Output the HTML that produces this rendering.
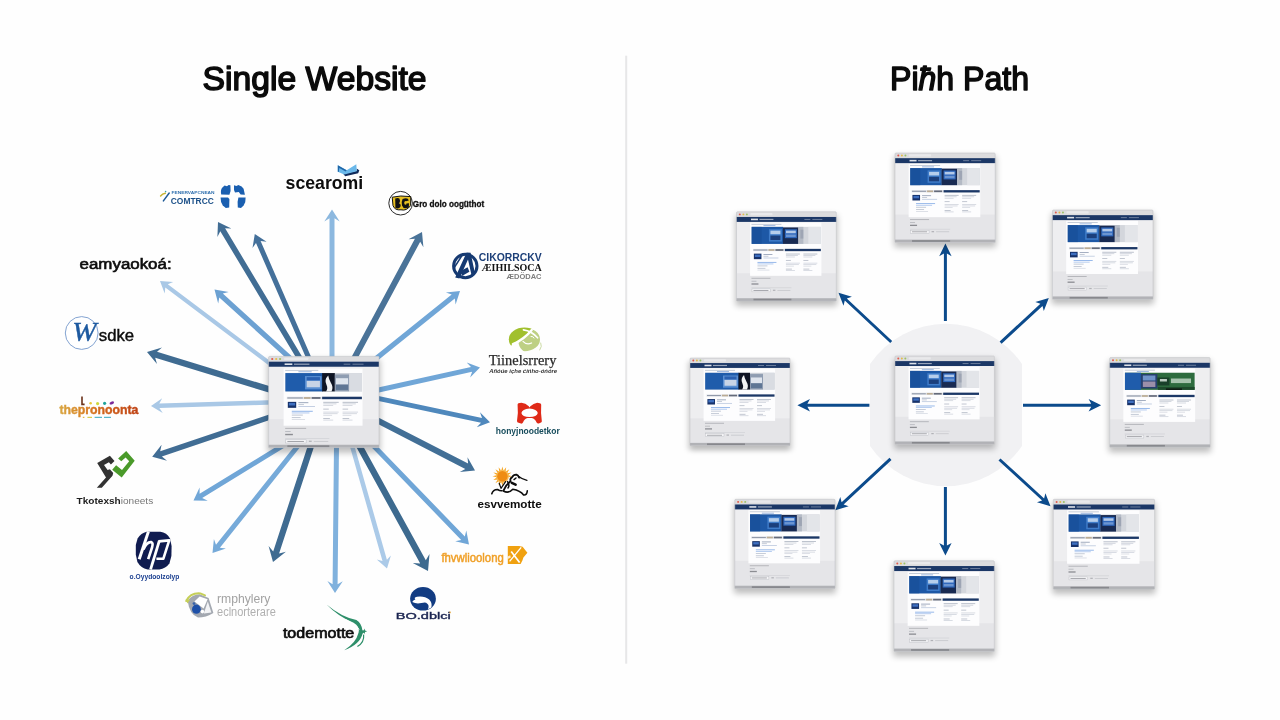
<!DOCTYPE html>
<html><head><meta charset="utf-8"><title>Single Website vs Path</title>
<style>html,body{margin:0;padding:0;background:#fff;width:1280px;height:720px;overflow:hidden}svg{display:block;filter:blur(.45px)}text{font-family:"Liberation Sans", sans-serif}</style></head><body>
<svg width="1280" height="720" viewBox="0 0 1280 720">
<defs><filter id="sh" x="-20%" y="-20%" width="140%" height="150%"><feGaussianBlur stdDeviation="3"/></filter></defs>
<rect width="1280" height="720" fill="#fefefe"/>
<rect x="625.2" y="55.7" width="2" height="608" fill="#e7e7e8"/>
<text x="202.6" y="90" font-size="32.8" fill="#0b0b0b" stroke="#0b0b0b" stroke-width="1.5" stroke-linejoin="round" textLength="224" lengthAdjust="spacingAndGlyphs">Single Website</text>
<text x="890" y="90" font-size="32.8" fill="#0b0b0b" stroke="#0b0b0b" stroke-width="1.5" stroke-linejoin="round" textLength="139" lengthAdjust="spacingAndGlyphs">Pi<tspan font-style="italic">ħ</tspan>h Path</text>
<g id="larrows">
<polygon fill="#416d94" points="307.4,365.6 225.1,228.3 231.4,228.5 218.0,222.0 217.4,236.9 220.3,231.2 302.6,368.4"/>
<polygon fill="#44709a" points="315.4,366.8 260.6,241.0 266.6,241.8 254.8,234.0 252.5,248.0 256.0,243.0 310.8,368.8"/>
<polygon fill="#8cb8df" points="334.5,369.0 334.5,218.2 339.7,221.4 332.0,209.5 324.3,221.4 329.5,218.2 329.5,369.0"/>
<polygon fill="#4a7398" points="352.0,368.8 420.2,241.7 423.4,247.3 422.0,232.0 408.5,239.3 414.9,238.8 346.7,365.9"/>
<polygon fill="#70a6d7" points="368.7,367.7 454.8,298.4 455.6,304.5 460.0,291.0 445.9,292.5 451.7,294.5 365.5,363.8"/>
<polygon fill="#a9c8e6" points="281.2,369.3 167.8,284.2 173.2,282.0 160.0,281.0 164.7,293.4 165.3,287.6 278.6,372.7"/>
<polygon fill="#6ca1d2" points="298.7,362.5 222.8,293.6 228.7,291.9 214.5,289.6 218.2,303.5 219.3,297.5 295.2,366.3"/>
<polygon fill="#3f6b91" points="283.0,390.3 157.0,351.8 162.0,347.6 147.0,352.0 157.0,364.1 155.2,357.8 281.2,396.3"/>
<polygon fill="#a9c8e6" points="282.6,399.8 159.3,403.5 162.2,398.3 151.0,406.0 162.7,413.0 159.4,408.0 282.8,404.3"/>
<polygon fill="#416d94" points="281.1,410.4 160.2,451.2 161.6,444.7 152.2,456.8 167.0,460.7 161.9,456.4 282.8,415.6"/>
<polygon fill="#70a6d7" points="288.1,439.6 199.6,493.7 199.6,487.6 193.5,500.4 207.7,500.8 202.2,498.0 290.7,443.8"/>
<polygon fill="#76aad9" points="302.3,436.5 216.0,544.7 213.9,538.9 212.5,553.0 225.9,548.5 219.9,547.8 306.2,439.6"/>
<polygon fill="#3f6b91" points="311.4,434.7 273.2,551.5 268.6,546.1 273.0,562.0 285.9,551.8 279.1,553.5 317.3,436.7"/>
<polygon fill="#80b1dd" points="334.1,435.0 332.6,584.3 327.4,581.0 335.0,593.0 342.8,581.2 337.6,584.3 339.1,435.0"/>
<polygon fill="#abcae8" points="347.0,436.2 382.5,561.0 376.8,559.4 387.0,568.4 390.9,555.4 386.9,559.7 351.3,434.9"/>
<polygon fill="#3d6a8f" points="351.5,438.3 420.2,563.4 412.8,563.1 428.0,571.0 429.5,553.9 425.8,560.3 357.1,435.2"/>
<polygon fill="#70a6d7" points="365.2,440.7 461.2,540.0 455.2,541.3 469.0,544.5 466.3,530.6 464.8,536.5 368.8,437.2"/>
<polygon fill="#426f96" points="364.9,417.3 465.3,468.9 459.8,472.1 475.0,470.5 467.5,457.2 468.1,463.6 367.6,411.9"/>
<polygon fill="#4f88bc" points="364.5,398.1 481.0,422.8 476.8,427.3 490.0,422.2 480.0,412.2 482.0,418.0 365.5,393.3"/>
<polygon fill="#70a6d7" points="365.6,395.5 472.1,371.7 470.1,377.5 480.0,367.4 466.7,362.5 471.0,366.9 364.5,390.6"/>
</g>
<g transform="translate(268.60,356.40) scale(1.1040,1.0133)">
<rect x="-1" y="3" width="102" height="92" rx="2" fill="#000" opacity=".25" filter="url(#sh)"/>
<rect x="0" y="0" width="100" height="90" rx="1" fill="#eeeef0"/>
<rect x="0" y="62" width="100" height="26" fill="#e5e5e8"/>
<rect x="0" y="0" width="100" height="5.2" rx="1" fill="#dcdcde"/>
<rect x="14" y="1.3" width="22" height="2.2" rx=".6" fill="#e9e9eb"/>
<circle cx="3.3" cy="2.6" r="1.0" fill="#e2594b"/>
<circle cx="6.9" cy="2.6" r="1.0" fill="#e4bb48"/>
<circle cx="10.4" cy="2.6" r="1.0" fill="#9cc266"/>
<rect x="0" y="5.2" width="100" height="5" fill="#1b3766"/>
<rect x="14.5" y="6.9" width="7" height="1.6" fill="#fff" opacity=".85"/>
<rect x="23" y="7.1" width="14" height="1.2" fill="#fff" opacity=".55"/>
<rect x="68" y="7.2" width="6" height="1" fill="#fff" opacity=".35"/>
<rect x="76" y="7.2" width="10" height="1" fill="#fff" opacity=".35"/>
<g transform="translate(0,11.2) scale(1,1.052) translate(0,-10.2)">
<rect x="13.6" y="11" width="71.5" height="53.6" fill="#fdfdfe"/>
<rect x="15" y="12.2" width="30" height=".8" fill="#9aa6ba" opacity=".7"/>
<rect x="27" y="13.6" width="12" height=".8" fill="#3b6fc0" opacity=".6"/>
<rect x="15.2" y="15.2" width="69.4" height="17.2" fill="#c9ced6"/>
<rect x="15.2" y="15.2" width="34" height="17.2" fill="#1f5cab"/>
<rect x="33" y="18" width="15" height="12.5" fill="#5a8fd2"/>
<rect x="34.5" y="22.5" width="12" height="6" fill="#c8d4e6"/>
<rect x="34.5" y="19" width="12" height="3" fill="#2a60b0"/>
<rect x="48.5" y="15.2" width="11.5" height="17.2" fill="#0e1424"/>
<path d="M54 17.5 q-4 4 -1.5 9 q1.5 3.5 -0.5 5.9 h5 q2 -4 -0.5 -8 q-2 -3.5 -2.5 -6.9z" fill="#f1f2f4"/>
<rect x="60" y="16.5" width="13" height="15.9" fill="#8f9db2"/>
<rect x="61" y="20" width="11" height="6" fill="#dfe5ee"/>
<rect x="61" y="26" width="11" height="5" fill="#5f7695"/>
<rect x="73" y="15.2" width="11.6" height="17.2" fill="#d9dce2"/>
<rect x="16.5" y="37.4" width="68" height="2.3" fill="#e3e5ea"/>
<rect x="17" y="38" width="14" height="1.1" fill="#6f7a8e" opacity=".7"/>
<rect x="32" y="37.7" width="6" height="1.7" fill="#a9946f" opacity=".7"/>
<rect x="39" y="37.7" width="8" height="1.7" fill="#454c5e" opacity=".8"/>
<rect x="48.5" y="37.4" width="36" height="2.3" fill="#1b3766"/>
<rect x="17.4" y="42.2" width="7.6" height="5.6" fill="#17326a"/>
<rect x="18.4" y="43.2" width="5.6" height="2.4" fill="#3e6fc0"/>
<rect x="27.0" y="42.6" width="9.0" height="0.8" fill="#5d6f90" opacity="0.70"/>
<rect x="27.0" y="44.4" width="5.0" height="0.8" fill="#7f8ea8" opacity="0.55"/>
<rect x="27.0" y="46.2" width="15.0" height="0.8" fill="#8ea4c8" opacity="0.60"/>
<rect x="21.0" y="50.6" width="19.0" height="0.8" fill="#3b7bd8" opacity="0.65"/>
<rect x="21.0" y="52.2" width="16.0" height="0.8" fill="#3b7bd8" opacity="0.45"/>
<rect x="21.0" y="54.2" width="10.0" height="0.8" fill="#7f8ea8" opacity="0.55"/>
<rect x="21.0" y="56.6" width="8.0" height="0.8" fill="#7f8ea8" opacity="0.55"/>
<rect x="21.0" y="58.4" width="12.0" height="0.8" fill="#9aa6ba" opacity="0.40"/>
<rect x="49.5" y="42.2" width="14.0" height="0.8" fill="#6b7890" opacity="0.55"/>
<rect x="49.5" y="43.7" width="12.0" height="0.8" fill="#8e99ad" opacity="0.45"/>
<rect x="49.5" y="45.2" width="9.0" height="0.8" fill="#8e99ad" opacity="0.40"/>
<rect x="49.5" y="48.6" width="5.0" height="0.8" fill="#6b7890" opacity="0.50"/>
<rect x="49.5" y="51.4" width="14.0" height="0.8" fill="#8e99ad" opacity="0.40"/>
<rect x="49.5" y="52.9" width="13.0" height="0.8" fill="#8e99ad" opacity="0.40"/>
<rect x="49.5" y="54.4" width="8.0" height="0.8" fill="#8e99ad" opacity="0.35"/>
<rect x="49.5" y="57.4" width="6.0" height="0.8" fill="#6b7890" opacity="0.50"/>
<rect x="49.5" y="58.9" width="9.0" height="0.8" fill="#8e99ad" opacity="0.40"/>
<rect x="67.0" y="42.2" width="14.0" height="0.8" fill="#6b7890" opacity="0.55"/>
<rect x="67.0" y="43.7" width="12.0" height="0.8" fill="#8e99ad" opacity="0.45"/>
<rect x="67.0" y="45.2" width="9.0" height="0.8" fill="#8e99ad" opacity="0.40"/>
<rect x="67.0" y="48.6" width="5.0" height="0.8" fill="#6b7890" opacity="0.50"/>
<rect x="67.0" y="51.4" width="14.0" height="0.8" fill="#8e99ad" opacity="0.40"/>
<rect x="67.0" y="52.9" width="13.0" height="0.8" fill="#8e99ad" opacity="0.40"/>
<rect x="67.0" y="54.4" width="8.0" height="0.8" fill="#8e99ad" opacity="0.35"/>
<rect x="67.0" y="57.4" width="6.0" height="0.8" fill="#6b7890" opacity="0.50"/>
<rect x="67.0" y="58.9" width="9.0" height="0.8" fill="#8e99ad" opacity="0.40"/>
<rect x="15.0" y="66.6" width="19.0" height="0.9" fill="#8d8f96" opacity="0.60"/>
<rect x="15.0" y="69.6" width="5.0" height="0.9" fill="#9a9ca3" opacity="0.60"/>
<rect x="15.0" y="72.2" width="7.0" height="1.3" fill="#6d6f76" opacity="0.75"/>
<rect x="15.0" y="76.4" width="40.0" height="0.6" fill="#b9bbc1" opacity="0.50"/>
<rect x="15.5" y="77.8" width="18.5" height="3" fill="#f4f4f6" stroke="#b9bbc1" stroke-width=".4"/>
<rect x="17.0" y="78.9" width="15.0" height="0.9" fill="#7c7e85" opacity="0.70"/>
<rect x="36.5" y="78.6" width="2.5" height="1.2" fill="#8d8f96" opacity="0.60"/>
<rect x="41.0" y="78.9" width="13.0" height="0.8" fill="#a9abb2" opacity="0.50"/>
</g>
<rect x="0" y="87.2" width="100" height="2.8" fill="#b1b2b6"/>
<rect x="17" y="87.7" width="38" height="1.8" fill="#87888d"/>
<rect x="0" y="0" width="100" height="90" rx="1" fill="none" stroke="#bfc0c4" stroke-width=".5"/>
</g>
<defs>
<linearGradient id="gThe" x1="0" x2="1" y1="0" y2="0"><stop offset="0" stop-color="#d9a743"/><stop offset=".25" stop-color="#d98a2a"/><stop offset=".55" stop-color="#d2641c"/><stop offset="1" stop-color="#bf4316"/></linearGradient>
<linearGradient id="gLeaf" x1="0" x2="1" y1="0" y2="1"><stop offset="0" stop-color="#9dbf2c"/><stop offset=".5" stop-color="#a9c445"/><stop offset="1" stop-color="#c3d592"/></linearGradient>
</defs>
<g id="logos">

<!-- scearomi -->
<g>
<path d="M343.4 174 L356.8 170.8 L356.6 168.6 L359.3 170.2 L358.2 173.2 L345.2 176.3Z" fill="#0f2a5a"/>
<path d="M337.8 165.2 L346.7 170.2 L356.3 164.2 L356.8 171.3 L344.3 174.4 L337.8 171.7Z" fill="#6ab8ea"/>
<path d="M337.8 165.2 L346.7 170.2 L345.6 171.5 L339.3 168 L338.8 172.1 L337.8 171.7Z" fill="#1f66a8"/>
<text x="285.6" y="188.7" font-size="17.8" font-weight="700" fill="#0d0d0d" textLength="77.6" lengthAdjust="spacingAndGlyphs">scearomi</text>
</g>

<!-- COMTRCC -->
<g>
<path d="M163.4 200.9 L169.2 193" stroke="#1e5a96" stroke-width="1.5" stroke-linecap="round" fill="none"/>
<path d="M160.6 195.9 Q162.4 193.8 165.3 193.3" stroke="#c8b432" stroke-width="1.5" stroke-linecap="round" fill="none"/>
<circle cx="165.6" cy="191.6" r=".8" fill="#3aa0a0"/>
<text x="171.6" y="193.8" font-size="3.7" font-weight="700" fill="#2f6fae" textLength="43" lengthAdjust="spacingAndGlyphs">FENERVAPCNEAN</text>
<text x="170.8" y="203.9" font-size="9" font-weight="700" fill="#1a4f88" textLength="43" lengthAdjust="spacingAndGlyphs">COMTRCC</text>
<!-- puzzle globe -->
<g fill="#1a5fb0">
<path d="M221.2 194.6 Q220.2 190 222.4 187.6 L224.6 185.4 L227 186.2 L228.6 184.9 L230.4 185.2 L230.6 191 L229.4 194.8Z"/>
<path d="M234 185.2 L236.4 186 L238.4 184.9 L241.6 186.4 L243.6 188.8 L244.9 194.8 L240.6 194.4 L238.8 192 L235 192.6 L234 190Z"/>
<path d="M220.6 197.6 L228 197.4 L229.4 199 L229.2 207.6 L225.8 207.9 L222.8 205.6 Q220.4 202 220.6 197.6Z"/>
<path d="M238.4 197.6 L245.6 197.4 Q246 202 243.6 205.4 L241 207.9 L237.8 207.6 L237.6 202Z"/>
</g>
</g>

<!-- Gro dolo -->
<g>
<circle cx="400.6" cy="203.2" r="11.8" fill="#fff" stroke="#2a2a2a" stroke-width="1"/>
<path d="M392.2 197.2 L400.8 196 L410.8 196.6 L410.6 205.6 Q406.6 211.2 401 209.8 Q394.8 210.6 393 205.6Z" fill="#e6bf22" stroke="#111" stroke-width="1"/>
<path d="M395.2 198.6 q4.6 -1.6 4.8 2 q.2 2 -1.2 2.6 q2.6 .8 1.6 3.6 q-1.4 2.6 -5 1.2z M402.6 199 q5.4 -2 6.2 1.6 l-2.8 .6 q-1.200 -1 -1.800 1.200 q-.2 2.800 2 2.400 l.2 -1.400 l2.600 -.2 l-.2 4.200 q-5.400 2.200 -6.800 -2 q-.8 -3.800 .6 -6.400z" fill="#111"/>
<text x="412.8" y="206.9" font-size="9" font-weight="700" stroke="#0d0d0d" stroke-width=".3" fill="#0d0d0d" textLength="71.4" lengthAdjust="spacingAndGlyphs">Gro dolo oogüthot</text>
</g>

<!-- A logo -->
<g>
<circle cx="465.3" cy="266" r="11.7" fill="#fff" stroke="#163a72" stroke-width="3"/>
<path d="M455.2 277.6 L466.6 252.6 L470.6 252.8 L475.2 274.6 L471.8 276.4 L468 259.6 L459.4 278.4Z" fill="#163a72"/>
<path d="M459.8 271.6 L467.6 267.2 L469.4 271.8 L462.4 275.8Z" fill="#163a72"/>
<path d="M453.6 268.6 L463.4 253.4" stroke="#163a72" stroke-width="1.6" fill="none"/>
<text x="478.8" y="260.6" font-size="10.2" font-weight="700" fill="#1c3f78" textLength="63" lengthAdjust="spacingAndGlyphs">CIKORRCKV</text>
<text x="481.6" y="271.3" font-size="10.8" font-weight="700" fill="#131313" style='font-family:"Liberation Serif",serif' textLength="60.2" lengthAdjust="spacingAndGlyphs">ÆIHILSOCA</text>
<text x="506.5" y="278.7" font-size="7" font-weight="700" fill="#7d7d7d" textLength="35" lengthAdjust="spacingAndGlyphs">ÆDÖDAC</text>
</g>

<!-- Tiinelsrrery -->
<g>
<clipPath id="cLeaf"><ellipse cx="524.4" cy="339.4" rx="15.6" ry="11.9"/></clipPath>
<g clip-path="url(#cLeaf)">
<circle cx="530.4" cy="341.4" r="11.9" fill="#bed084"/>
<polygon points="505,350.2 538,325.2 538,315 500,315 500,350.2" fill="#a1c02e"/>
</g>
<path d="M512.9 344.2 Q524 339.6 531.7 330" stroke="#fff" stroke-width="2.4" fill="none" stroke-linecap="round"/>
<path d="M523.4 329.9 Q531.6 331 537.6 337.8" stroke="#fff" stroke-width="1.6" fill="none" stroke-linecap="round"/>
<path d="M523 341.4 Q526.6 345.4 531.6 343" stroke="#fff" stroke-width="1.2" fill="none" stroke-linecap="round"/>
<path d="M531 336.4 q2.2 -.4 3 1.6" stroke="#fff" stroke-width="1" fill="none" stroke-linecap="round"/>
<path d="M540.8 343 q1.6 3.4 -1 7" stroke="#c5d698" stroke-width=".9" fill="none" stroke-linecap="round"/>
<text x="488.8" y="364.7" font-size="14.8" fill="#2a2a2a" stroke="#2a2a2a" stroke-width=".25" style='font-family:"Liberation Serif",serif' textLength="67.6" lengthAdjust="spacingAndGlyphs">Tiinelsrrery</text>
<text x="489.2" y="373.4" font-size="5.4" font-style="italic" font-weight="700" fill="#333" textLength="68" lengthAdjust="spacingAndGlyphs">Añóúe içhe ćíńho-óńóre</text>
</g>

<!-- red logo -->
<g>
<path fill-rule="evenodd" fill="#df2a18" d="M518.4 403.2 Q517.4 403.6 517.6 405 Q518.4 413.2 517 421 Q517 422.4 518.6 422.8 L521 423.6 Q522.4 423.8 523 422.6 Q524.4 418.6 527.6 418 L531.8 418 Q535 418.6 536.6 422.4 Q537.4 423.8 538.8 423.4 L541 422.6 Q542 422.2 541.8 420.8 Q540.6 413 541.2 404.8 Q541.2 403.4 539.8 403.2 L537.2 402.8 Q533.4 403.4 530.4 406.2 L529.4 407.4 L528.8 406.2 Q525.6 403.2 521.4 402.8Z M529.4 408.6 Q522.2 409.2 521.4 413 Q522.2 416.8 529.4 417 Q537 416.8 537.8 413 Q537 409.2 529.4 408.6Z"/>
<text x="495.8" y="434" font-size="9.8" font-weight="700" fill="#164c5c" textLength="64" lengthAdjust="spacingAndGlyphs">honyjnoodetkor</text>
</g>

<!-- sun runner -->
<g>
<g fill="#f5a623">
<polygon points="501.4,470.6 502.4,466.4 503.4,470.6"/>
<polygon points="503.7,470.6 506.2,467.2 505.5,471.4"/>
<polygon points="505.8,471.6 509.4,469.3 507.1,472.9"/>
<polygon points="507.3,473.2 511.5,472.5 508.1,475.0"/>
<polygon points="508.1,475.3 512.3,476.3 508.1,477.3"/>
<polygon points="503.4,482.0 502.4,486.2 501.4,482.0"/>
<polygon points="501.1,482.0 498.6,485.4 499.3,481.2"/>
<polygon points="499.0,481.0 495.4,483.3 497.7,479.7"/>
<polygon points="497.5,479.4 493.3,480.1 496.7,477.6"/>
<polygon points="496.7,477.3 492.5,476.3 496.7,475.3"/>
<polygon points="496.7,475.0 493.3,472.5 497.5,473.2"/>
<polygon points="497.7,472.9 495.4,469.3 499.0,471.6"/>
<polygon points="499.3,471.4 498.6,467.2 501.1,470.6"/>
</g>
<circle cx="502.4" cy="476.3" r="6.5" fill="#f8bb55"/>
<circle cx="502.4" cy="476.3" r="5.2" fill="#ef8c12"/>
<g fill="none" stroke="#0d0d0d" stroke-linecap="round" stroke-linejoin="round">
<path d="M491.8 493.8 Q493.2 489.4 497.5 489.5 Q499.8 491 502 490.8" stroke-width="1.6"/>
<path d="M499.2 483.2 L501 488.4 L505.6 481.6" stroke-width="1.2"/>
<path d="M503.6 490.4 Q506 484.6 510.6 481.2 Q509.6 478.6 512 477.4 Q513.6 474.4 516.4 474.6 Q518.4 475.4 518.9 477.4" stroke-width="1.8"/>
<path d="M503.4 491 Q508.6 494 512.8 489.2 Q520.2 490.4 523.6 494.9 Q527 495.4 527.3 490.8" stroke-width="1.6"/>
<path d="M518.6 476.6 Q521.6 479 526.9 480.3" stroke-width="1.3"/>
<path d="M511.8 482.8 L515.6 484.6" stroke-width="2.6"/>
<path d="M507.6 481.6 Q510 485.6 508 488" stroke-width="1.5"/>
<path d="M514 479.6 l2 -1.6" stroke-width="1.4"/>
</g>
<circle cx="519.4" cy="477.6" r="1" fill="#0d0d0d"/>
<text x="477.4" y="507.7" font-size="11.5" font-weight="700" fill="#0d0d0d" textLength="64.4" lengthAdjust="spacingAndGlyphs">esvvemotte</text>
</g>

<!-- fhvwlioolong -->
<g>
<text x="441.4" y="561.9" font-size="12.4" fill="#f0a028" stroke="#f0a028" stroke-width=".5" textLength="62.4" lengthAdjust="spacingAndGlyphs">fhvwlioolong</text>
<path d="M507.8 546 L519 546 L522.6 546.8 L527.4 552.8 L523.4 557.6 L522.4 560.6 L520.6 564 L507.8 564Z" fill="#f0a110"/>
<path d="M511.2 551.6 L519.6 562.6" stroke="#fff" stroke-width="1.7" fill="none"/>
<path d="M521.2 547.4 L509.6 561.4" stroke="#fff" stroke-width="1.3" fill="none"/>
<path d="M507.8 556.4 l2.4 -1.2 l.6 2.4 l-3 1.4z" fill="#fff" opacity=".8"/>
</g>

<!-- blue circle BO -->
<g>
<ellipse cx="423" cy="598.8" rx="12.9" ry="11.8" fill="#123c82"/>
<path d="M412.2 602 Q413.6 599.6 415.4 599.4 Q413.4 597.6 417 596.8 Q424.6 595.8 429.2 599.6 Q432.4 602.8 431.4 607.6 L428 609.2 Q429.6 605.4 427 603.6 Q426 601.6 421.4 603 Q416.4 604.2 412.2 602Z" fill="#fff"/>
<text x="395.8" y="618.7" font-size="9.2" fill="#1a2450" stroke="#1a2450" stroke-width=".35" textLength="55" lengthAdjust="spacingAndGlyphs">BO.dblci</text>
<rect x="449.4" y="611.6" width="1.3" height="1.6" fill="#e0a030"/>
</g>

<!-- todemotte -->
<g>
<text x="282.9" y="637.8" font-size="15" fill="#0d0d0d" stroke="#0d0d0d" stroke-width=".7" textLength="71.4" lengthAdjust="spacingAndGlyphs">todemotte</text>
<path d="M326.6 604.6 Q342 617.6 356.4 620 Q361.4 623 362.4 630.2 L365.6 631.6 L362.6 633.4 Q360 644.4 344.2 650.2 Q356 643.2 358.6 632.6 Q360 626.4 353.6 622.8 Q338.6 617 326.6 604.6Z" fill="#2e8f6a"/>
<path d="M346 619.6 Q354.6 623.6 359.4 629.4" stroke="#fff" stroke-width=".8" fill="none"/>
<path d="M363.6 634.6 Q364.6 642.2 357.4 646.6" stroke="#2e8f6a" stroke-width="1.2" fill="none"/>
<path d="M364.4 628.4 l.6 2.2 l2.2 .6 l-2.2 .8 l-.4 2.2 l-1 -2.2 l-2.2 -.6 l2.2 -.8z" fill="#2e8f6a"/>
</g>

<!-- rmphylery -->
<g>
<path d="M187.6 600.6 Q192 594.4 199.6 594.2 L208.6 598 L213.4 613 Q206 617.6 198 617.6 Q189.4 614.6 187.6 600.6Z" fill="#a3a8b0"/>
<path d="M199.6 596.4 L207.6 599.2 L203.6 608.6 L194.4 601.4Z" fill="#fff"/>
<path d="M207.8 601.6 L211.4 612.4 L203.8 613.6Z" fill="#f3f4f6"/>
<ellipse cx="196.4" cy="609.2" rx="4.4" ry="4.6" fill="#1e50a8"/>
<circle cx="202.4" cy="611.6" r="1.8" fill="#fff"/>
<circle cx="194" cy="603.6" r="1.4" fill="#1e50a8" opacity=".8"/>
<path d="M186.2 601 Q190.4 592.6 200.4 593.4 L205 595.4" stroke="#c5cf58" stroke-width="2" fill="none" stroke-linecap="round"/>
<path d="M185.6 599.4 l4.6 .4 l-2.8 3.6z" fill="#c5cf58"/>
<text x="217" y="602.7" font-size="12" fill="#a2a2a2" textLength="53.4" lengthAdjust="spacingAndGlyphs">rmphylery</text>
<text x="217" y="615.9" font-size="12" fill="#b0b0b0" textLength="58.8" lengthAdjust="spacingAndGlyphs">eclnorterare</text>
</g>

<!-- HP -->
<g>
<path d="M146.6 531.8 L160.4 531.8 Q166.6 532.6 170 538.4 L171.6 546 L171.4 556 L169.4 563.6 Q165.6 568.8 159.4 569.6 L147.6 569.6 Q140.8 568 137.4 562 L135.8 554.6 L135.8 545 L137.6 538.6 Q141 533 146.6 531.8Z" fill="#101c50"/>
<g fill="none" stroke="#fff" stroke-linejoin="round">
<path d="M148.4 531.6 L139.2 559.2" stroke-width="3"/>
<path d="M143.4 549.6 Q146.6 541.6 151.4 542.2 Q153.4 543 152 547.6 L148.2 559.2" stroke-width="2.7"/>
<path d="M159.4 540.6 L150.6 569.4" stroke-width="2.8"/>
<path d="M158.6 541.4 L169.2 540.4 L163.4 558.6 L156.4 558.8" stroke-width="2.6"/>
</g>
<text x="129.6" y="579.4" font-size="6.4" font-weight="700" fill="#1a3f90" textLength="49.8" lengthAdjust="spacingAndGlyphs">o.Oyydoolzolyp</text>
</g>

<!-- check logo -->
<g>
<path d="M97.2 462.9 L109.9 455.8 L114.5 461 L110.9 464.6 L108.9 462.3 L104 464.9 L107.6 470.1 L109.9 469.2 L113.2 473.1 L112.5 475.7 L101.8 487.8 L96.8 487.8 L106 477.6Z" fill="#323232"/>
<path d="M126.2 450.9 L134.7 460.7 L121.7 477.6 L112.2 469.8 L116.1 465.2 L122 470.1 L129.2 461.3 L125.6 457.4 L121.3 461.3 L118.1 458.4Z" fill="#4a9a2a"/>
<text x="76.6" y="503.8" font-size="9.8" fill="#777" textLength="76.6" lengthAdjust="spacingAndGlyphs"><tspan font-weight="700" fill="#1d1d1d">Tkotexsh</tspan>ioneets</text>
</g>

<!-- thepronoonta -->
<g>
<path d="M82 396.6 L82 404.4 L84.6 404.4" stroke="#6a3018" stroke-width="1.6" fill="none"/>
<circle cx="90.6" cy="403.3" r="1.3" fill="#e8c83a"/>
<circle cx="97.6" cy="403.6" r="1.6" fill="#cfd83e"/>
<circle cx="104.6" cy="403.3" r="1.6" fill="#20a39a"/>
<ellipse cx="111.8" cy="402.9" rx="2.4" ry="1.4" fill="#7a2a9a" transform="rotate(-25 111.8 402.9)"/>
<text x="59.4" y="413.8" font-size="13.4" font-weight="700" fill="url(#gThe)" stroke="url(#gThe)" stroke-width=".45" textLength="79" lengthAdjust="spacingAndGlyphs">thepronoonta</text>
<rect x="82.8" y="416.8" width="1.6" height="1.1" fill="#e0b030"/>
<rect x="87.4" y="416.8" width="4.6" height="1.1" fill="#d8c83a"/>
<rect x="94.6" y="416.8" width="7.4" height="1.1" fill="#48b0c8"/>
<rect x="104" y="416.8" width="7" height="1.1" fill="#48b0c8"/>
</g>

<!-- Wsdke -->
<g>
<circle cx="81.7" cy="333" r="16.4" fill="#fff" stroke="#7598cc" stroke-width=".9"/>
<text x="72.2" y="341.4" font-size="26.4" font-style="italic" fill="#1e5aa0" stroke="#1e5aa0" stroke-width=".4" style='font-family:"Liberation Serif",serif' textLength="24.2" lengthAdjust="spacingAndGlyphs">W</text>
<text x="98.8" y="340.6" font-size="15.8" fill="#0d0d0d" stroke="#0d0d0d" stroke-width=".4" textLength="35.4" lengthAdjust="spacingAndGlyphs">sdke</text>
</g>

<!-- eamyaokoa -->
<text x="79.6" y="269" font-size="14" fill="#0d0d0d" stroke="#0d0d0d" stroke-width=".6" textLength="92" lengthAdjust="spacingAndGlyphs">eamyaokoá:</text>

</g>

<path d="M870,364 A92,92 0 0 1 1022,364 L1022,446 A92,92 0 0 1 870,446 Z" fill="#f1f1f3"/>
<g id="rarrows">
<polygon fill="#0c4b8c" points="946.9,321.0 946.9,253.6 951.6,256.2 945.4,243.6 939.2,256.2 943.9,253.6 943.9,321.0"/>
<polygon fill="#0c4b8c" points="892.2,340.9 846.8,298.4 851.9,296.8 838.5,292.7 843.5,305.8 844.8,300.6 890.2,343.1"/>
<polygon fill="#0c4b8c" points="1001.6,343.7 1042.5,305.9 1043.8,311.1 1048.8,298.0 1035.3,302.0 1040.4,303.7 999.6,341.5"/>
<polygon fill="#0c4b8c" points="869.4,403.8 807.4,403.8 810.0,399.1 797.4,405.3 810.0,411.5 807.4,406.8 869.4,406.8"/>
<polygon fill="#0c4b8c" points="1023.0,406.8 1091.2,406.8 1088.6,411.5 1101.2,405.3 1088.6,399.1 1091.2,403.8 1023.0,403.8"/>
<polygon fill="#0c4b8c" points="889.5,457.7 841.6,502.3 840.3,497.1 835.3,510.2 848.7,506.2 843.6,504.5 891.5,459.9"/>
<polygon fill="#0c4b8c" points="943.9,487.0 943.9,545.5 939.2,542.9 945.4,555.5 951.6,542.9 946.9,545.5 946.9,487.0"/>
<polygon fill="#0c4b8c" points="998.5,460.6 1042.1,500.6 1037.0,502.3 1050.5,506.3 1045.4,493.2 1044.1,498.4 1000.5,458.4"/>
</g>
<g transform="translate(895.00,153.00) scale(1.0020,0.9933)">
<rect x="-1" y="3" width="102" height="92" rx="2" fill="#000" opacity=".25" filter="url(#sh)"/>
<rect x="0" y="0" width="100" height="90" rx="1" fill="#eeeef0"/>
<rect x="0" y="62" width="100" height="26" fill="#e5e5e8"/>
<rect x="0" y="0" width="100" height="5.2" rx="1" fill="#dcdcde"/>
<rect x="14" y="1.3" width="22" height="2.2" rx=".6" fill="#e9e9eb"/>
<circle cx="3.3" cy="2.6" r="1.0" fill="#e2594b"/>
<circle cx="6.9" cy="2.6" r="1.0" fill="#e4bb48"/>
<circle cx="10.4" cy="2.6" r="1.0" fill="#9cc266"/>
<rect x="0" y="5.2" width="100" height="5" fill="#1b3766"/>
<rect x="14.5" y="6.9" width="7" height="1.6" fill="#fff" opacity=".85"/>
<rect x="23" y="7.1" width="14" height="1.2" fill="#fff" opacity=".55"/>
<rect x="68" y="7.2" width="6" height="1" fill="#fff" opacity=".35"/>
<rect x="76" y="7.2" width="10" height="1" fill="#fff" opacity=".35"/>
<g>
<rect x="13.6" y="11" width="71.5" height="53.6" fill="#fdfdfe"/>
<rect x="15" y="12.2" width="30" height=".8" fill="#9aa6ba" opacity=".7"/>
<rect x="27" y="13.6" width="12" height=".8" fill="#3b6fc0" opacity=".6"/>
<rect x="15.2" y="15.2" width="69.4" height="17.2" fill="#d3d6dc"/>
<rect x="15.2" y="15.2" width="31.5" height="17.2" fill="#1d58a6"/>
<rect x="15.2" y="15.2" width="10" height="17.2" fill="#184c96" opacity=".6"/>
<rect x="32.5" y="17.5" width="13" height="12.5" fill="#3f7cc9"/>
<rect x="34" y="19" width="10" height="3.6" fill="#dfe9f6" opacity=".75"/>
<rect x="34" y="24" width="10" height="4.5" fill="#1b3f7c"/>
<rect x="46.5" y="15.8" width="15.5" height="16.6" fill="#182a52"/>
<rect x="48.5" y="17.6" width="12" height="9" fill="#2f68bd"/>
<rect x="49.6" y="19" width="9.8" height="2.6" fill="#d5e1f2" opacity=".8"/>
<rect x="49.6" y="23" width="9.8" height="2.4" fill="#86a8da" opacity=".7"/>
<rect x="62" y="15.2" width="5" height="17.2" fill="#b4bac5"/>
<rect x="64" y="18" width="3" height="9" fill="#8f98a8" opacity=".6"/>
<rect x="72" y="15.2" width="12.6" height="17.2" fill="#e3e5e9"/>
<rect x="16.5" y="37.4" width="68" height="2.3" fill="#e3e5ea"/>
<rect x="17" y="38" width="14" height="1.1" fill="#6f7a8e" opacity=".7"/>
<rect x="32" y="37.7" width="6" height="1.7" fill="#a9946f" opacity=".7"/>
<rect x="39" y="37.7" width="8" height="1.7" fill="#454c5e" opacity=".8"/>
<rect x="48.5" y="37.4" width="36" height="2.3" fill="#1b3766"/>
<rect x="17.4" y="42.2" width="7.6" height="5.6" fill="#17326a"/>
<rect x="18.4" y="43.2" width="5.6" height="2.4" fill="#3e6fc0"/>
<rect x="27.0" y="42.6" width="9.0" height="0.8" fill="#5d6f90" opacity="0.70"/>
<rect x="27.0" y="44.4" width="5.0" height="0.8" fill="#7f8ea8" opacity="0.55"/>
<rect x="27.0" y="46.2" width="15.0" height="0.8" fill="#8ea4c8" opacity="0.60"/>
<rect x="21.0" y="50.6" width="19.0" height="0.8" fill="#3b7bd8" opacity="0.65"/>
<rect x="21.0" y="52.2" width="16.0" height="0.8" fill="#3b7bd8" opacity="0.45"/>
<rect x="21.0" y="54.2" width="10.0" height="0.8" fill="#7f8ea8" opacity="0.55"/>
<rect x="21.0" y="56.6" width="8.0" height="0.8" fill="#7f8ea8" opacity="0.55"/>
<rect x="21.0" y="58.4" width="12.0" height="0.8" fill="#9aa6ba" opacity="0.40"/>
<rect x="49.5" y="42.2" width="14.0" height="0.8" fill="#6b7890" opacity="0.55"/>
<rect x="49.5" y="43.7" width="12.0" height="0.8" fill="#8e99ad" opacity="0.45"/>
<rect x="49.5" y="45.2" width="9.0" height="0.8" fill="#8e99ad" opacity="0.40"/>
<rect x="49.5" y="48.6" width="5.0" height="0.8" fill="#6b7890" opacity="0.50"/>
<rect x="49.5" y="51.4" width="14.0" height="0.8" fill="#8e99ad" opacity="0.40"/>
<rect x="49.5" y="52.9" width="13.0" height="0.8" fill="#8e99ad" opacity="0.40"/>
<rect x="49.5" y="54.4" width="8.0" height="0.8" fill="#8e99ad" opacity="0.35"/>
<rect x="49.5" y="57.4" width="6.0" height="0.8" fill="#6b7890" opacity="0.50"/>
<rect x="49.5" y="58.9" width="9.0" height="0.8" fill="#8e99ad" opacity="0.40"/>
<rect x="67.0" y="42.2" width="14.0" height="0.8" fill="#6b7890" opacity="0.55"/>
<rect x="67.0" y="43.7" width="12.0" height="0.8" fill="#8e99ad" opacity="0.45"/>
<rect x="67.0" y="45.2" width="9.0" height="0.8" fill="#8e99ad" opacity="0.40"/>
<rect x="67.0" y="48.6" width="5.0" height="0.8" fill="#6b7890" opacity="0.50"/>
<rect x="67.0" y="51.4" width="14.0" height="0.8" fill="#8e99ad" opacity="0.40"/>
<rect x="67.0" y="52.9" width="13.0" height="0.8" fill="#8e99ad" opacity="0.40"/>
<rect x="67.0" y="54.4" width="8.0" height="0.8" fill="#8e99ad" opacity="0.35"/>
<rect x="67.0" y="57.4" width="6.0" height="0.8" fill="#6b7890" opacity="0.50"/>
<rect x="67.0" y="58.9" width="9.0" height="0.8" fill="#8e99ad" opacity="0.40"/>
<rect x="15.0" y="66.6" width="19.0" height="0.9" fill="#8d8f96" opacity="0.60"/>
<rect x="15.0" y="69.6" width="5.0" height="0.9" fill="#9a9ca3" opacity="0.60"/>
<rect x="15.0" y="72.2" width="7.0" height="1.3" fill="#6d6f76" opacity="0.75"/>
<rect x="15.0" y="76.4" width="40.0" height="0.6" fill="#b9bbc1" opacity="0.50"/>
<rect x="15.5" y="77.8" width="18.5" height="3" fill="#f4f4f6" stroke="#b9bbc1" stroke-width=".4"/>
<rect x="17.0" y="78.9" width="15.0" height="0.9" fill="#7c7e85" opacity="0.70"/>
<rect x="36.5" y="78.6" width="2.5" height="1.2" fill="#8d8f96" opacity="0.60"/>
<rect x="41.0" y="78.9" width="13.0" height="0.8" fill="#a9abb2" opacity="0.50"/>
</g>
<rect x="0" y="87.2" width="100" height="2.8" fill="#b1b2b6"/>
<rect x="17" y="87.7" width="38" height="1.8" fill="#87888d"/>
<rect x="0" y="0" width="100" height="90" rx="1" fill="none" stroke="#bfc0c4" stroke-width=".5"/>
</g>
<g transform="translate(736.50,211.80) scale(0.9980,0.9911)">
<rect x="-1" y="3" width="102" height="92" rx="2" fill="#000" opacity=".25" filter="url(#sh)"/>
<rect x="0" y="0" width="100" height="90" rx="1" fill="#eeeef0"/>
<rect x="0" y="62" width="100" height="26" fill="#e5e5e8"/>
<rect x="0" y="0" width="100" height="5.2" rx="1" fill="#dcdcde"/>
<rect x="14" y="1.3" width="22" height="2.2" rx=".6" fill="#e9e9eb"/>
<circle cx="3.3" cy="2.6" r="1.0" fill="#e2594b"/>
<circle cx="6.9" cy="2.6" r="1.0" fill="#e4bb48"/>
<circle cx="10.4" cy="2.6" r="1.0" fill="#9cc266"/>
<rect x="0" y="5.2" width="100" height="5" fill="#1b3766"/>
<rect x="14.5" y="6.9" width="7" height="1.6" fill="#fff" opacity=".85"/>
<rect x="23" y="7.1" width="14" height="1.2" fill="#fff" opacity=".55"/>
<rect x="68" y="7.2" width="6" height="1" fill="#fff" opacity=".35"/>
<rect x="76" y="7.2" width="10" height="1" fill="#fff" opacity=".35"/>
<g>
<rect x="13.6" y="11" width="71.5" height="53.6" fill="#fdfdfe"/>
<rect x="15" y="12.2" width="30" height=".8" fill="#9aa6ba" opacity=".7"/>
<rect x="27" y="13.6" width="12" height=".8" fill="#3b6fc0" opacity=".6"/>
<rect x="15.2" y="15.2" width="69.4" height="17.2" fill="#d3d6dc"/>
<rect x="15.2" y="15.2" width="31.5" height="17.2" fill="#1d58a6"/>
<rect x="15.2" y="15.2" width="10" height="17.2" fill="#184c96" opacity=".6"/>
<rect x="32.5" y="17.5" width="13" height="12.5" fill="#3f7cc9"/>
<rect x="34" y="19" width="10" height="3.6" fill="#dfe9f6" opacity=".75"/>
<rect x="34" y="24" width="10" height="4.5" fill="#1b3f7c"/>
<rect x="46.5" y="15.8" width="15.5" height="16.6" fill="#182a52"/>
<rect x="48.5" y="17.6" width="12" height="9" fill="#2f68bd"/>
<rect x="49.6" y="19" width="9.8" height="2.6" fill="#d5e1f2" opacity=".8"/>
<rect x="49.6" y="23" width="9.8" height="2.4" fill="#86a8da" opacity=".7"/>
<rect x="62" y="15.2" width="5" height="17.2" fill="#b4bac5"/>
<rect x="64" y="18" width="3" height="9" fill="#8f98a8" opacity=".6"/>
<rect x="72" y="15.2" width="12.6" height="17.2" fill="#e3e5e9"/>
<rect x="16.5" y="37.4" width="68" height="2.3" fill="#e3e5ea"/>
<rect x="17" y="38" width="14" height="1.1" fill="#6f7a8e" opacity=".7"/>
<rect x="32" y="37.7" width="6" height="1.7" fill="#a9946f" opacity=".7"/>
<rect x="39" y="37.7" width="8" height="1.7" fill="#454c5e" opacity=".8"/>
<rect x="48.5" y="37.4" width="36" height="2.3" fill="#1b3766"/>
<rect x="17.4" y="42.2" width="7.6" height="5.6" fill="#17326a"/>
<rect x="18.4" y="43.2" width="5.6" height="2.4" fill="#3e6fc0"/>
<rect x="27.0" y="42.6" width="9.0" height="0.8" fill="#5d6f90" opacity="0.70"/>
<rect x="27.0" y="44.4" width="5.0" height="0.8" fill="#7f8ea8" opacity="0.55"/>
<rect x="27.0" y="46.2" width="15.0" height="0.8" fill="#8ea4c8" opacity="0.60"/>
<rect x="21.0" y="50.6" width="19.0" height="0.8" fill="#3b7bd8" opacity="0.65"/>
<rect x="21.0" y="52.2" width="16.0" height="0.8" fill="#3b7bd8" opacity="0.45"/>
<rect x="21.0" y="54.2" width="10.0" height="0.8" fill="#7f8ea8" opacity="0.55"/>
<rect x="21.0" y="56.6" width="8.0" height="0.8" fill="#7f8ea8" opacity="0.55"/>
<rect x="21.0" y="58.4" width="12.0" height="0.8" fill="#9aa6ba" opacity="0.40"/>
<rect x="49.5" y="42.2" width="14.0" height="0.8" fill="#6b7890" opacity="0.55"/>
<rect x="49.5" y="43.7" width="12.0" height="0.8" fill="#8e99ad" opacity="0.45"/>
<rect x="49.5" y="45.2" width="9.0" height="0.8" fill="#8e99ad" opacity="0.40"/>
<rect x="49.5" y="48.6" width="5.0" height="0.8" fill="#6b7890" opacity="0.50"/>
<rect x="49.5" y="51.4" width="14.0" height="0.8" fill="#8e99ad" opacity="0.40"/>
<rect x="49.5" y="52.9" width="13.0" height="0.8" fill="#8e99ad" opacity="0.40"/>
<rect x="49.5" y="54.4" width="8.0" height="0.8" fill="#8e99ad" opacity="0.35"/>
<rect x="49.5" y="57.4" width="6.0" height="0.8" fill="#6b7890" opacity="0.50"/>
<rect x="49.5" y="58.9" width="9.0" height="0.8" fill="#8e99ad" opacity="0.40"/>
<rect x="67.0" y="42.2" width="14.0" height="0.8" fill="#6b7890" opacity="0.55"/>
<rect x="67.0" y="43.7" width="12.0" height="0.8" fill="#8e99ad" opacity="0.45"/>
<rect x="67.0" y="45.2" width="9.0" height="0.8" fill="#8e99ad" opacity="0.40"/>
<rect x="67.0" y="48.6" width="5.0" height="0.8" fill="#6b7890" opacity="0.50"/>
<rect x="67.0" y="51.4" width="14.0" height="0.8" fill="#8e99ad" opacity="0.40"/>
<rect x="67.0" y="52.9" width="13.0" height="0.8" fill="#8e99ad" opacity="0.40"/>
<rect x="67.0" y="54.4" width="8.0" height="0.8" fill="#8e99ad" opacity="0.35"/>
<rect x="67.0" y="57.4" width="6.0" height="0.8" fill="#6b7890" opacity="0.50"/>
<rect x="67.0" y="58.9" width="9.0" height="0.8" fill="#8e99ad" opacity="0.40"/>
<rect x="15.0" y="66.6" width="19.0" height="0.9" fill="#8d8f96" opacity="0.60"/>
<rect x="15.0" y="69.6" width="5.0" height="0.9" fill="#9a9ca3" opacity="0.60"/>
<rect x="15.0" y="72.2" width="7.0" height="1.3" fill="#6d6f76" opacity="0.75"/>
<rect x="15.0" y="76.4" width="40.0" height="0.6" fill="#b9bbc1" opacity="0.50"/>
<rect x="15.5" y="77.8" width="18.5" height="3" fill="#f4f4f6" stroke="#b9bbc1" stroke-width=".4"/>
<rect x="17.0" y="78.9" width="15.0" height="0.9" fill="#7c7e85" opacity="0.70"/>
<rect x="36.5" y="78.6" width="2.5" height="1.2" fill="#8d8f96" opacity="0.60"/>
<rect x="41.0" y="78.9" width="13.0" height="0.8" fill="#a9abb2" opacity="0.50"/>
</g>
<rect x="0" y="87.2" width="100" height="2.8" fill="#b1b2b6"/>
<rect x="17" y="87.7" width="38" height="1.8" fill="#87888d"/>
<rect x="0" y="0" width="100" height="90" rx="1" fill="none" stroke="#bfc0c4" stroke-width=".5"/>
</g>
<g transform="translate(1052.50,210.00) scale(1.0050,0.9911)">
<rect x="-1" y="3" width="102" height="92" rx="2" fill="#000" opacity=".25" filter="url(#sh)"/>
<rect x="0" y="0" width="100" height="90" rx="1" fill="#eeeef0"/>
<rect x="0" y="62" width="100" height="26" fill="#e5e5e8"/>
<rect x="0" y="0" width="100" height="5.2" rx="1" fill="#dcdcde"/>
<rect x="14" y="1.3" width="22" height="2.2" rx=".6" fill="#e9e9eb"/>
<circle cx="3.3" cy="2.6" r="1.0" fill="#e2594b"/>
<circle cx="6.9" cy="2.6" r="1.0" fill="#e4bb48"/>
<circle cx="10.4" cy="2.6" r="1.0" fill="#9cc266"/>
<rect x="0" y="5.2" width="100" height="5" fill="#1b3766"/>
<rect x="14.5" y="6.9" width="7" height="1.6" fill="#fff" opacity=".85"/>
<rect x="23" y="7.1" width="14" height="1.2" fill="#fff" opacity=".55"/>
<rect x="68" y="7.2" width="6" height="1" fill="#fff" opacity=".35"/>
<rect x="76" y="7.2" width="10" height="1" fill="#fff" opacity=".35"/>
<g>
<rect x="13.6" y="11" width="71.5" height="53.6" fill="#fdfdfe"/>
<rect x="15" y="12.2" width="30" height=".8" fill="#9aa6ba" opacity=".7"/>
<rect x="27" y="13.6" width="12" height=".8" fill="#3b6fc0" opacity=".6"/>
<rect x="15.2" y="15.2" width="69.4" height="17.2" fill="#d3d6dc"/>
<rect x="15.2" y="15.2" width="31.5" height="17.2" fill="#1d58a6"/>
<rect x="15.2" y="15.2" width="10" height="17.2" fill="#184c96" opacity=".6"/>
<rect x="32.5" y="17.5" width="13" height="12.5" fill="#3f7cc9"/>
<rect x="34" y="19" width="10" height="3.6" fill="#dfe9f6" opacity=".75"/>
<rect x="34" y="24" width="10" height="4.5" fill="#1b3f7c"/>
<rect x="46.5" y="15.8" width="15.5" height="16.6" fill="#182a52"/>
<rect x="48.5" y="17.6" width="12" height="9" fill="#2f68bd"/>
<rect x="49.6" y="19" width="9.8" height="2.6" fill="#d5e1f2" opacity=".8"/>
<rect x="49.6" y="23" width="9.8" height="2.4" fill="#86a8da" opacity=".7"/>
<rect x="62" y="15.2" width="5" height="17.2" fill="#b4bac5"/>
<rect x="64" y="18" width="3" height="9" fill="#8f98a8" opacity=".6"/>
<rect x="72" y="15.2" width="12.6" height="17.2" fill="#e3e5e9"/>
<rect x="16.5" y="37.4" width="68" height="2.3" fill="#e3e5ea"/>
<rect x="17" y="38" width="14" height="1.1" fill="#6f7a8e" opacity=".7"/>
<rect x="32" y="37.7" width="6" height="1.7" fill="#a9946f" opacity=".7"/>
<rect x="39" y="37.7" width="8" height="1.7" fill="#454c5e" opacity=".8"/>
<rect x="48.5" y="37.4" width="36" height="2.3" fill="#1b3766"/>
<rect x="17.4" y="42.2" width="7.6" height="5.6" fill="#17326a"/>
<rect x="18.4" y="43.2" width="5.6" height="2.4" fill="#3e6fc0"/>
<rect x="27.0" y="42.6" width="9.0" height="0.8" fill="#5d6f90" opacity="0.70"/>
<rect x="27.0" y="44.4" width="5.0" height="0.8" fill="#7f8ea8" opacity="0.55"/>
<rect x="27.0" y="46.2" width="15.0" height="0.8" fill="#8ea4c8" opacity="0.60"/>
<rect x="21.0" y="50.6" width="19.0" height="0.8" fill="#3b7bd8" opacity="0.65"/>
<rect x="21.0" y="52.2" width="16.0" height="0.8" fill="#3b7bd8" opacity="0.45"/>
<rect x="21.0" y="54.2" width="10.0" height="0.8" fill="#7f8ea8" opacity="0.55"/>
<rect x="21.0" y="56.6" width="8.0" height="0.8" fill="#7f8ea8" opacity="0.55"/>
<rect x="21.0" y="58.4" width="12.0" height="0.8" fill="#9aa6ba" opacity="0.40"/>
<rect x="49.5" y="42.2" width="14.0" height="0.8" fill="#6b7890" opacity="0.55"/>
<rect x="49.5" y="43.7" width="12.0" height="0.8" fill="#8e99ad" opacity="0.45"/>
<rect x="49.5" y="45.2" width="9.0" height="0.8" fill="#8e99ad" opacity="0.40"/>
<rect x="49.5" y="48.6" width="5.0" height="0.8" fill="#6b7890" opacity="0.50"/>
<rect x="49.5" y="51.4" width="14.0" height="0.8" fill="#8e99ad" opacity="0.40"/>
<rect x="49.5" y="52.9" width="13.0" height="0.8" fill="#8e99ad" opacity="0.40"/>
<rect x="49.5" y="54.4" width="8.0" height="0.8" fill="#8e99ad" opacity="0.35"/>
<rect x="49.5" y="57.4" width="6.0" height="0.8" fill="#6b7890" opacity="0.50"/>
<rect x="49.5" y="58.9" width="9.0" height="0.8" fill="#8e99ad" opacity="0.40"/>
<rect x="67.0" y="42.2" width="14.0" height="0.8" fill="#6b7890" opacity="0.55"/>
<rect x="67.0" y="43.7" width="12.0" height="0.8" fill="#8e99ad" opacity="0.45"/>
<rect x="67.0" y="45.2" width="9.0" height="0.8" fill="#8e99ad" opacity="0.40"/>
<rect x="67.0" y="48.6" width="5.0" height="0.8" fill="#6b7890" opacity="0.50"/>
<rect x="67.0" y="51.4" width="14.0" height="0.8" fill="#8e99ad" opacity="0.40"/>
<rect x="67.0" y="52.9" width="13.0" height="0.8" fill="#8e99ad" opacity="0.40"/>
<rect x="67.0" y="54.4" width="8.0" height="0.8" fill="#8e99ad" opacity="0.35"/>
<rect x="67.0" y="57.4" width="6.0" height="0.8" fill="#6b7890" opacity="0.50"/>
<rect x="67.0" y="58.9" width="9.0" height="0.8" fill="#8e99ad" opacity="0.40"/>
<rect x="15.0" y="66.6" width="19.0" height="0.9" fill="#8d8f96" opacity="0.60"/>
<rect x="15.0" y="69.6" width="5.0" height="0.9" fill="#9a9ca3" opacity="0.60"/>
<rect x="15.0" y="72.2" width="7.0" height="1.3" fill="#6d6f76" opacity="0.75"/>
<rect x="15.0" y="76.4" width="40.0" height="0.6" fill="#b9bbc1" opacity="0.50"/>
<rect x="15.5" y="77.8" width="18.5" height="3" fill="#f4f4f6" stroke="#b9bbc1" stroke-width=".4"/>
<rect x="17.0" y="78.9" width="15.0" height="0.9" fill="#7c7e85" opacity="0.70"/>
<rect x="36.5" y="78.6" width="2.5" height="1.2" fill="#8d8f96" opacity="0.60"/>
<rect x="41.0" y="78.9" width="13.0" height="0.8" fill="#a9abb2" opacity="0.50"/>
</g>
<rect x="0" y="87.2" width="100" height="2.8" fill="#b1b2b6"/>
<rect x="17" y="87.7" width="38" height="1.8" fill="#87888d"/>
<rect x="0" y="0" width="100" height="90" rx="1" fill="none" stroke="#bfc0c4" stroke-width=".5"/>
</g>
<g transform="translate(690.00,358.00) scale(1.0000,0.9733)">
<rect x="-1" y="3" width="102" height="92" rx="2" fill="#000" opacity=".25" filter="url(#sh)"/>
<rect x="0" y="0" width="100" height="90" rx="1" fill="#eeeef0"/>
<rect x="0" y="62" width="100" height="26" fill="#e5e5e8"/>
<rect x="0" y="0" width="100" height="5.2" rx="1" fill="#dcdcde"/>
<rect x="14" y="1.3" width="22" height="2.2" rx=".6" fill="#e9e9eb"/>
<circle cx="3.3" cy="2.6" r="1.0" fill="#e2594b"/>
<circle cx="6.9" cy="2.6" r="1.0" fill="#e4bb48"/>
<circle cx="10.4" cy="2.6" r="1.0" fill="#9cc266"/>
<rect x="0" y="5.2" width="100" height="5" fill="#1b3766"/>
<rect x="14.5" y="6.9" width="7" height="1.6" fill="#fff" opacity=".85"/>
<rect x="23" y="7.1" width="14" height="1.2" fill="#fff" opacity=".55"/>
<rect x="68" y="7.2" width="6" height="1" fill="#fff" opacity=".35"/>
<rect x="76" y="7.2" width="10" height="1" fill="#fff" opacity=".35"/>
<g>
<rect x="13.6" y="11" width="71.5" height="53.6" fill="#fdfdfe"/>
<rect x="15" y="12.2" width="30" height=".8" fill="#9aa6ba" opacity=".7"/>
<rect x="27" y="13.6" width="12" height=".8" fill="#3b6fc0" opacity=".6"/>
<rect x="15.2" y="15.2" width="69.4" height="17.2" fill="#c9ced6"/>
<rect x="15.2" y="15.2" width="34" height="17.2" fill="#1f5cab"/>
<rect x="33" y="18" width="15" height="12.5" fill="#5a8fd2"/>
<rect x="34.5" y="22.5" width="12" height="6" fill="#c8d4e6"/>
<rect x="34.5" y="19" width="12" height="3" fill="#2a60b0"/>
<rect x="48.5" y="15.2" width="11.5" height="17.2" fill="#0e1424"/>
<path d="M54 17.5 q-4 4 -1.5 9 q1.5 3.5 -0.5 5.9 h5 q2 -4 -0.5 -8 q-2 -3.5 -2.5 -6.9z" fill="#f1f2f4"/>
<rect x="60" y="16.5" width="13" height="15.9" fill="#8f9db2"/>
<rect x="61" y="20" width="11" height="6" fill="#dfe5ee"/>
<rect x="61" y="26" width="11" height="5" fill="#5f7695"/>
<rect x="73" y="15.2" width="11.6" height="17.2" fill="#d9dce2"/>
<rect x="16.5" y="37.4" width="68" height="2.3" fill="#e3e5ea"/>
<rect x="17" y="38" width="14" height="1.1" fill="#6f7a8e" opacity=".7"/>
<rect x="32" y="37.7" width="6" height="1.7" fill="#a9946f" opacity=".7"/>
<rect x="39" y="37.7" width="8" height="1.7" fill="#454c5e" opacity=".8"/>
<rect x="48.5" y="37.4" width="36" height="2.3" fill="#1b3766"/>
<rect x="17.4" y="42.2" width="7.6" height="5.6" fill="#17326a"/>
<rect x="18.4" y="43.2" width="5.6" height="2.4" fill="#3e6fc0"/>
<rect x="27.0" y="42.6" width="9.0" height="0.8" fill="#5d6f90" opacity="0.70"/>
<rect x="27.0" y="44.4" width="5.0" height="0.8" fill="#7f8ea8" opacity="0.55"/>
<rect x="27.0" y="46.2" width="15.0" height="0.8" fill="#8ea4c8" opacity="0.60"/>
<rect x="21.0" y="50.6" width="19.0" height="0.8" fill="#3b7bd8" opacity="0.65"/>
<rect x="21.0" y="52.2" width="16.0" height="0.8" fill="#3b7bd8" opacity="0.45"/>
<rect x="21.0" y="54.2" width="10.0" height="0.8" fill="#7f8ea8" opacity="0.55"/>
<rect x="21.0" y="56.6" width="8.0" height="0.8" fill="#7f8ea8" opacity="0.55"/>
<rect x="21.0" y="58.4" width="12.0" height="0.8" fill="#9aa6ba" opacity="0.40"/>
<rect x="49.5" y="42.2" width="14.0" height="0.8" fill="#6b7890" opacity="0.55"/>
<rect x="49.5" y="43.7" width="12.0" height="0.8" fill="#8e99ad" opacity="0.45"/>
<rect x="49.5" y="45.2" width="9.0" height="0.8" fill="#8e99ad" opacity="0.40"/>
<rect x="49.5" y="48.6" width="5.0" height="0.8" fill="#6b7890" opacity="0.50"/>
<rect x="49.5" y="51.4" width="14.0" height="0.8" fill="#8e99ad" opacity="0.40"/>
<rect x="49.5" y="52.9" width="13.0" height="0.8" fill="#8e99ad" opacity="0.40"/>
<rect x="49.5" y="54.4" width="8.0" height="0.8" fill="#8e99ad" opacity="0.35"/>
<rect x="49.5" y="57.4" width="6.0" height="0.8" fill="#6b7890" opacity="0.50"/>
<rect x="49.5" y="58.9" width="9.0" height="0.8" fill="#8e99ad" opacity="0.40"/>
<rect x="67.0" y="42.2" width="14.0" height="0.8" fill="#6b7890" opacity="0.55"/>
<rect x="67.0" y="43.7" width="12.0" height="0.8" fill="#8e99ad" opacity="0.45"/>
<rect x="67.0" y="45.2" width="9.0" height="0.8" fill="#8e99ad" opacity="0.40"/>
<rect x="67.0" y="48.6" width="5.0" height="0.8" fill="#6b7890" opacity="0.50"/>
<rect x="67.0" y="51.4" width="14.0" height="0.8" fill="#8e99ad" opacity="0.40"/>
<rect x="67.0" y="52.9" width="13.0" height="0.8" fill="#8e99ad" opacity="0.40"/>
<rect x="67.0" y="54.4" width="8.0" height="0.8" fill="#8e99ad" opacity="0.35"/>
<rect x="67.0" y="57.4" width="6.0" height="0.8" fill="#6b7890" opacity="0.50"/>
<rect x="67.0" y="58.9" width="9.0" height="0.8" fill="#8e99ad" opacity="0.40"/>
<rect x="15.0" y="66.6" width="19.0" height="0.9" fill="#8d8f96" opacity="0.60"/>
<rect x="15.0" y="69.6" width="5.0" height="0.9" fill="#9a9ca3" opacity="0.60"/>
<rect x="15.0" y="72.2" width="7.0" height="1.3" fill="#6d6f76" opacity="0.75"/>
<rect x="15.0" y="76.4" width="40.0" height="0.6" fill="#b9bbc1" opacity="0.50"/>
<rect x="15.5" y="77.8" width="18.5" height="3" fill="#f4f4f6" stroke="#b9bbc1" stroke-width=".4"/>
<rect x="17.0" y="78.9" width="15.0" height="0.9" fill="#7c7e85" opacity="0.70"/>
<rect x="36.5" y="78.6" width="2.5" height="1.2" fill="#8d8f96" opacity="0.60"/>
<rect x="41.0" y="78.9" width="13.0" height="0.8" fill="#a9abb2" opacity="0.50"/>
</g>
<rect x="0" y="87.2" width="100" height="2.8" fill="#b1b2b6"/>
<rect x="17" y="87.7" width="38" height="1.8" fill="#87888d"/>
<rect x="0" y="0" width="100" height="90" rx="1" fill="none" stroke="#bfc0c4" stroke-width=".5"/>
</g>
<g transform="translate(895.00,356.00) scale(0.9940,0.9800)">
<rect x="-1" y="3" width="102" height="92" rx="2" fill="#000" opacity=".25" filter="url(#sh)"/>
<rect x="0" y="0" width="100" height="90" rx="1" fill="#eeeef0"/>
<rect x="0" y="62" width="100" height="26" fill="#e5e5e8"/>
<rect x="0" y="0" width="100" height="5.2" rx="1" fill="#dcdcde"/>
<rect x="14" y="1.3" width="22" height="2.2" rx=".6" fill="#e9e9eb"/>
<circle cx="3.3" cy="2.6" r="1.0" fill="#e2594b"/>
<circle cx="6.9" cy="2.6" r="1.0" fill="#e4bb48"/>
<circle cx="10.4" cy="2.6" r="1.0" fill="#9cc266"/>
<rect x="0" y="5.2" width="100" height="5" fill="#1b3766"/>
<rect x="14.5" y="6.9" width="7" height="1.6" fill="#fff" opacity=".85"/>
<rect x="23" y="7.1" width="14" height="1.2" fill="#fff" opacity=".55"/>
<rect x="68" y="7.2" width="6" height="1" fill="#fff" opacity=".35"/>
<rect x="76" y="7.2" width="10" height="1" fill="#fff" opacity=".35"/>
<g>
<rect x="13.6" y="11" width="71.5" height="53.6" fill="#fdfdfe"/>
<rect x="15" y="12.2" width="30" height=".8" fill="#9aa6ba" opacity=".7"/>
<rect x="27" y="13.6" width="12" height=".8" fill="#3b6fc0" opacity=".6"/>
<rect x="15.2" y="15.2" width="69.4" height="17.2" fill="#d3d6dc"/>
<rect x="15.2" y="15.2" width="31.5" height="17.2" fill="#1d58a6"/>
<rect x="15.2" y="15.2" width="10" height="17.2" fill="#184c96" opacity=".6"/>
<rect x="32.5" y="17.5" width="13" height="12.5" fill="#3f7cc9"/>
<rect x="34" y="19" width="10" height="3.6" fill="#dfe9f6" opacity=".75"/>
<rect x="34" y="24" width="10" height="4.5" fill="#1b3f7c"/>
<rect x="46.5" y="15.8" width="15.5" height="16.6" fill="#182a52"/>
<rect x="48.5" y="17.6" width="12" height="9" fill="#2f68bd"/>
<rect x="49.6" y="19" width="9.8" height="2.6" fill="#d5e1f2" opacity=".8"/>
<rect x="49.6" y="23" width="9.8" height="2.4" fill="#86a8da" opacity=".7"/>
<rect x="62" y="15.2" width="5" height="17.2" fill="#b4bac5"/>
<rect x="64" y="18" width="3" height="9" fill="#8f98a8" opacity=".6"/>
<rect x="72" y="15.2" width="12.6" height="17.2" fill="#e3e5e9"/>
<rect x="16.5" y="37.4" width="68" height="2.3" fill="#e3e5ea"/>
<rect x="17" y="38" width="14" height="1.1" fill="#6f7a8e" opacity=".7"/>
<rect x="32" y="37.7" width="6" height="1.7" fill="#a9946f" opacity=".7"/>
<rect x="39" y="37.7" width="8" height="1.7" fill="#454c5e" opacity=".8"/>
<rect x="48.5" y="37.4" width="36" height="2.3" fill="#1b3766"/>
<rect x="17.4" y="42.2" width="7.6" height="5.6" fill="#17326a"/>
<rect x="18.4" y="43.2" width="5.6" height="2.4" fill="#3e6fc0"/>
<rect x="27.0" y="42.6" width="9.0" height="0.8" fill="#5d6f90" opacity="0.70"/>
<rect x="27.0" y="44.4" width="5.0" height="0.8" fill="#7f8ea8" opacity="0.55"/>
<rect x="27.0" y="46.2" width="15.0" height="0.8" fill="#8ea4c8" opacity="0.60"/>
<rect x="21.0" y="50.6" width="19.0" height="0.8" fill="#3b7bd8" opacity="0.65"/>
<rect x="21.0" y="52.2" width="16.0" height="0.8" fill="#3b7bd8" opacity="0.45"/>
<rect x="21.0" y="54.2" width="10.0" height="0.8" fill="#7f8ea8" opacity="0.55"/>
<rect x="21.0" y="56.6" width="8.0" height="0.8" fill="#7f8ea8" opacity="0.55"/>
<rect x="21.0" y="58.4" width="12.0" height="0.8" fill="#9aa6ba" opacity="0.40"/>
<rect x="49.5" y="42.2" width="14.0" height="0.8" fill="#6b7890" opacity="0.55"/>
<rect x="49.5" y="43.7" width="12.0" height="0.8" fill="#8e99ad" opacity="0.45"/>
<rect x="49.5" y="45.2" width="9.0" height="0.8" fill="#8e99ad" opacity="0.40"/>
<rect x="49.5" y="48.6" width="5.0" height="0.8" fill="#6b7890" opacity="0.50"/>
<rect x="49.5" y="51.4" width="14.0" height="0.8" fill="#8e99ad" opacity="0.40"/>
<rect x="49.5" y="52.9" width="13.0" height="0.8" fill="#8e99ad" opacity="0.40"/>
<rect x="49.5" y="54.4" width="8.0" height="0.8" fill="#8e99ad" opacity="0.35"/>
<rect x="49.5" y="57.4" width="6.0" height="0.8" fill="#6b7890" opacity="0.50"/>
<rect x="49.5" y="58.9" width="9.0" height="0.8" fill="#8e99ad" opacity="0.40"/>
<rect x="67.0" y="42.2" width="14.0" height="0.8" fill="#6b7890" opacity="0.55"/>
<rect x="67.0" y="43.7" width="12.0" height="0.8" fill="#8e99ad" opacity="0.45"/>
<rect x="67.0" y="45.2" width="9.0" height="0.8" fill="#8e99ad" opacity="0.40"/>
<rect x="67.0" y="48.6" width="5.0" height="0.8" fill="#6b7890" opacity="0.50"/>
<rect x="67.0" y="51.4" width="14.0" height="0.8" fill="#8e99ad" opacity="0.40"/>
<rect x="67.0" y="52.9" width="13.0" height="0.8" fill="#8e99ad" opacity="0.40"/>
<rect x="67.0" y="54.4" width="8.0" height="0.8" fill="#8e99ad" opacity="0.35"/>
<rect x="67.0" y="57.4" width="6.0" height="0.8" fill="#6b7890" opacity="0.50"/>
<rect x="67.0" y="58.9" width="9.0" height="0.8" fill="#8e99ad" opacity="0.40"/>
<rect x="15.0" y="66.6" width="19.0" height="0.9" fill="#8d8f96" opacity="0.60"/>
<rect x="15.0" y="69.6" width="5.0" height="0.9" fill="#9a9ca3" opacity="0.60"/>
<rect x="15.0" y="72.2" width="7.0" height="1.3" fill="#6d6f76" opacity="0.75"/>
<rect x="15.0" y="76.4" width="40.0" height="0.6" fill="#b9bbc1" opacity="0.50"/>
<rect x="15.5" y="77.8" width="18.5" height="3" fill="#f4f4f6" stroke="#b9bbc1" stroke-width=".4"/>
<rect x="17.0" y="78.9" width="15.0" height="0.9" fill="#7c7e85" opacity="0.70"/>
<rect x="36.5" y="78.6" width="2.5" height="1.2" fill="#8d8f96" opacity="0.60"/>
<rect x="41.0" y="78.9" width="13.0" height="0.8" fill="#a9abb2" opacity="0.50"/>
</g>
<rect x="0" y="87.2" width="100" height="2.8" fill="#b1b2b6"/>
<rect x="17" y="87.7" width="38" height="1.8" fill="#87888d"/>
<rect x="0" y="0" width="100" height="90" rx="1" fill="none" stroke="#bfc0c4" stroke-width=".5"/>
</g>
<g transform="translate(1109.70,357.60) scale(1.0040,0.9956)">
<rect x="-1" y="3" width="102" height="92" rx="2" fill="#000" opacity=".25" filter="url(#sh)"/>
<rect x="0" y="0" width="100" height="90" rx="1" fill="#eeeef0"/>
<rect x="0" y="62" width="100" height="26" fill="#e5e5e8"/>
<rect x="0" y="0" width="100" height="5.2" rx="1" fill="#dcdcde"/>
<rect x="14" y="1.3" width="22" height="2.2" rx=".6" fill="#e9e9eb"/>
<circle cx="3.3" cy="2.6" r="1.0" fill="#e2594b"/>
<circle cx="6.9" cy="2.6" r="1.0" fill="#e4bb48"/>
<circle cx="10.4" cy="2.6" r="1.0" fill="#9cc266"/>
<rect x="0" y="5.2" width="100" height="5" fill="#1b3766"/>
<rect x="14.5" y="6.9" width="7" height="1.6" fill="#fff" opacity=".85"/>
<rect x="23" y="7.1" width="14" height="1.2" fill="#fff" opacity=".55"/>
<rect x="68" y="7.2" width="6" height="1" fill="#fff" opacity=".35"/>
<rect x="76" y="7.2" width="10" height="1" fill="#fff" opacity=".35"/>
<g>
<rect x="13.6" y="11" width="71.5" height="53.6" fill="#fdfdfe"/>
<rect x="15" y="12.2" width="30" height=".8" fill="#9aa6ba" opacity=".7"/>
<rect x="27" y="13.6" width="12" height=".8" fill="#3b6fc0" opacity=".6"/>
<rect x="15.2" y="15.2" width="69.4" height="17.2" fill="#2d6b3e"/>
<rect x="15.2" y="15.2" width="16" height="17.2" fill="#1f5cab"/>
<rect x="31" y="16.5" width="16.5" height="14.5" fill="#27406f"/>
<rect x="33" y="18" width="12.5" height="5" fill="#6f93c9"/>
<rect x="33" y="24" width="12.5" height="5.5" fill="#b9a3b8" opacity=".8"/>
<rect x="47.5" y="20" width="12" height="8" fill="#19402a"/>
<rect x="50" y="21.5" width="7" height="2.5" fill="#d8e4dc" opacity=".85"/>
<rect x="61" y="21" width="20" height="4.6" fill="#cfe0d3" opacity=".75"/>
<rect x="48" y="29.5" width="36.6" height="2.9" fill="#1d4a2b"/>
<rect x="56" y="31" width="16" height="1.4" fill="#0c1410"/>
<rect x="16.5" y="37.4" width="68" height="2.3" fill="#e3e5ea"/>
<rect x="17" y="38" width="14" height="1.1" fill="#6f7a8e" opacity=".7"/>
<rect x="32" y="37.7" width="6" height="1.7" fill="#a9946f" opacity=".7"/>
<rect x="39" y="37.7" width="8" height="1.7" fill="#454c5e" opacity=".8"/>
<rect x="48.5" y="37.4" width="36" height="2.3" fill="#1b3766"/>
<rect x="17.4" y="42.2" width="7.6" height="5.6" fill="#17326a"/>
<rect x="18.4" y="43.2" width="5.6" height="2.4" fill="#3e6fc0"/>
<rect x="27.0" y="42.6" width="9.0" height="0.8" fill="#5d6f90" opacity="0.70"/>
<rect x="27.0" y="44.4" width="5.0" height="0.8" fill="#7f8ea8" opacity="0.55"/>
<rect x="27.0" y="46.2" width="15.0" height="0.8" fill="#8ea4c8" opacity="0.60"/>
<rect x="21.0" y="50.6" width="19.0" height="0.8" fill="#3b7bd8" opacity="0.65"/>
<rect x="21.0" y="52.2" width="16.0" height="0.8" fill="#3b7bd8" opacity="0.45"/>
<rect x="21.0" y="54.2" width="10.0" height="0.8" fill="#7f8ea8" opacity="0.55"/>
<rect x="21.0" y="56.6" width="8.0" height="0.8" fill="#7f8ea8" opacity="0.55"/>
<rect x="21.0" y="58.4" width="12.0" height="0.8" fill="#9aa6ba" opacity="0.40"/>
<rect x="49.5" y="42.2" width="14.0" height="0.8" fill="#6b7890" opacity="0.55"/>
<rect x="49.5" y="43.7" width="12.0" height="0.8" fill="#8e99ad" opacity="0.45"/>
<rect x="49.5" y="45.2" width="9.0" height="0.8" fill="#8e99ad" opacity="0.40"/>
<rect x="49.5" y="48.6" width="5.0" height="0.8" fill="#6b7890" opacity="0.50"/>
<rect x="49.5" y="51.4" width="14.0" height="0.8" fill="#8e99ad" opacity="0.40"/>
<rect x="49.5" y="52.9" width="13.0" height="0.8" fill="#8e99ad" opacity="0.40"/>
<rect x="49.5" y="54.4" width="8.0" height="0.8" fill="#8e99ad" opacity="0.35"/>
<rect x="49.5" y="57.4" width="6.0" height="0.8" fill="#6b7890" opacity="0.50"/>
<rect x="49.5" y="58.9" width="9.0" height="0.8" fill="#8e99ad" opacity="0.40"/>
<rect x="67.0" y="42.2" width="14.0" height="0.8" fill="#6b7890" opacity="0.55"/>
<rect x="67.0" y="43.7" width="12.0" height="0.8" fill="#8e99ad" opacity="0.45"/>
<rect x="67.0" y="45.2" width="9.0" height="0.8" fill="#8e99ad" opacity="0.40"/>
<rect x="67.0" y="48.6" width="5.0" height="0.8" fill="#6b7890" opacity="0.50"/>
<rect x="67.0" y="51.4" width="14.0" height="0.8" fill="#8e99ad" opacity="0.40"/>
<rect x="67.0" y="52.9" width="13.0" height="0.8" fill="#8e99ad" opacity="0.40"/>
<rect x="67.0" y="54.4" width="8.0" height="0.8" fill="#8e99ad" opacity="0.35"/>
<rect x="67.0" y="57.4" width="6.0" height="0.8" fill="#6b7890" opacity="0.50"/>
<rect x="67.0" y="58.9" width="9.0" height="0.8" fill="#8e99ad" opacity="0.40"/>
<rect x="15.0" y="66.6" width="19.0" height="0.9" fill="#8d8f96" opacity="0.60"/>
<rect x="15.0" y="69.6" width="5.0" height="0.9" fill="#9a9ca3" opacity="0.60"/>
<rect x="15.0" y="72.2" width="7.0" height="1.3" fill="#6d6f76" opacity="0.75"/>
<rect x="15.0" y="76.4" width="40.0" height="0.6" fill="#b9bbc1" opacity="0.50"/>
<rect x="15.5" y="77.8" width="18.5" height="3" fill="#f4f4f6" stroke="#b9bbc1" stroke-width=".4"/>
<rect x="17.0" y="78.9" width="15.0" height="0.9" fill="#7c7e85" opacity="0.70"/>
<rect x="36.5" y="78.6" width="2.5" height="1.2" fill="#8d8f96" opacity="0.60"/>
<rect x="41.0" y="78.9" width="13.0" height="0.8" fill="#a9abb2" opacity="0.50"/>
</g>
<rect x="0" y="87.2" width="100" height="2.8" fill="#b1b2b6"/>
<rect x="17" y="87.7" width="38" height="1.8" fill="#87888d"/>
<rect x="0" y="0" width="100" height="90" rx="1" fill="none" stroke="#bfc0c4" stroke-width=".5"/>
</g>
<g transform="translate(734.80,499.30) scale(1.0020,0.9911)">
<rect x="-1" y="3" width="102" height="92" rx="2" fill="#000" opacity=".25" filter="url(#sh)"/>
<rect x="0" y="0" width="100" height="90" rx="1" fill="#eeeef0"/>
<rect x="0" y="62" width="100" height="26" fill="#e5e5e8"/>
<rect x="0" y="0" width="100" height="5.2" rx="1" fill="#dcdcde"/>
<rect x="14" y="1.3" width="22" height="2.2" rx=".6" fill="#e9e9eb"/>
<circle cx="3.3" cy="2.6" r="1.0" fill="#e2594b"/>
<circle cx="6.9" cy="2.6" r="1.0" fill="#e4bb48"/>
<circle cx="10.4" cy="2.6" r="1.0" fill="#9cc266"/>
<rect x="0" y="5.2" width="100" height="5" fill="#1b3766"/>
<rect x="14.5" y="6.9" width="7" height="1.6" fill="#fff" opacity=".85"/>
<rect x="23" y="7.1" width="14" height="1.2" fill="#fff" opacity=".55"/>
<rect x="68" y="7.2" width="6" height="1" fill="#fff" opacity=".35"/>
<rect x="76" y="7.2" width="10" height="1" fill="#fff" opacity=".35"/>
<g>
<rect x="13.6" y="11" width="71.5" height="53.6" fill="#fdfdfe"/>
<rect x="15" y="12.2" width="30" height=".8" fill="#9aa6ba" opacity=".7"/>
<rect x="27" y="13.6" width="12" height=".8" fill="#3b6fc0" opacity=".6"/>
<rect x="15.2" y="15.2" width="69.4" height="17.2" fill="#d3d6dc"/>
<rect x="15.2" y="15.2" width="31.5" height="17.2" fill="#1d58a6"/>
<rect x="15.2" y="15.2" width="10" height="17.2" fill="#184c96" opacity=".6"/>
<rect x="32.5" y="17.5" width="13" height="12.5" fill="#3f7cc9"/>
<rect x="34" y="19" width="10" height="3.6" fill="#dfe9f6" opacity=".75"/>
<rect x="34" y="24" width="10" height="4.5" fill="#1b3f7c"/>
<rect x="46.5" y="15.8" width="15.5" height="16.6" fill="#182a52"/>
<rect x="48.5" y="17.6" width="12" height="9" fill="#2f68bd"/>
<rect x="49.6" y="19" width="9.8" height="2.6" fill="#d5e1f2" opacity=".8"/>
<rect x="49.6" y="23" width="9.8" height="2.4" fill="#86a8da" opacity=".7"/>
<rect x="62" y="15.2" width="5" height="17.2" fill="#b4bac5"/>
<rect x="64" y="18" width="3" height="9" fill="#8f98a8" opacity=".6"/>
<rect x="72" y="15.2" width="12.6" height="17.2" fill="#e3e5e9"/>
<rect x="16.5" y="37.4" width="68" height="2.3" fill="#e3e5ea"/>
<rect x="17" y="38" width="14" height="1.1" fill="#6f7a8e" opacity=".7"/>
<rect x="32" y="37.7" width="6" height="1.7" fill="#a9946f" opacity=".7"/>
<rect x="39" y="37.7" width="8" height="1.7" fill="#454c5e" opacity=".8"/>
<rect x="48.5" y="37.4" width="36" height="2.3" fill="#1b3766"/>
<rect x="17.4" y="42.2" width="7.6" height="5.6" fill="#17326a"/>
<rect x="18.4" y="43.2" width="5.6" height="2.4" fill="#3e6fc0"/>
<rect x="27.0" y="42.6" width="9.0" height="0.8" fill="#5d6f90" opacity="0.70"/>
<rect x="27.0" y="44.4" width="5.0" height="0.8" fill="#7f8ea8" opacity="0.55"/>
<rect x="27.0" y="46.2" width="15.0" height="0.8" fill="#8ea4c8" opacity="0.60"/>
<rect x="21.0" y="50.6" width="19.0" height="0.8" fill="#3b7bd8" opacity="0.65"/>
<rect x="21.0" y="52.2" width="16.0" height="0.8" fill="#3b7bd8" opacity="0.45"/>
<rect x="21.0" y="54.2" width="10.0" height="0.8" fill="#7f8ea8" opacity="0.55"/>
<rect x="21.0" y="56.6" width="8.0" height="0.8" fill="#7f8ea8" opacity="0.55"/>
<rect x="21.0" y="58.4" width="12.0" height="0.8" fill="#9aa6ba" opacity="0.40"/>
<rect x="49.5" y="42.2" width="14.0" height="0.8" fill="#6b7890" opacity="0.55"/>
<rect x="49.5" y="43.7" width="12.0" height="0.8" fill="#8e99ad" opacity="0.45"/>
<rect x="49.5" y="45.2" width="9.0" height="0.8" fill="#8e99ad" opacity="0.40"/>
<rect x="49.5" y="48.6" width="5.0" height="0.8" fill="#6b7890" opacity="0.50"/>
<rect x="49.5" y="51.4" width="14.0" height="0.8" fill="#8e99ad" opacity="0.40"/>
<rect x="49.5" y="52.9" width="13.0" height="0.8" fill="#8e99ad" opacity="0.40"/>
<rect x="49.5" y="54.4" width="8.0" height="0.8" fill="#8e99ad" opacity="0.35"/>
<rect x="49.5" y="57.4" width="6.0" height="0.8" fill="#6b7890" opacity="0.50"/>
<rect x="49.5" y="58.9" width="9.0" height="0.8" fill="#8e99ad" opacity="0.40"/>
<rect x="67.0" y="42.2" width="14.0" height="0.8" fill="#6b7890" opacity="0.55"/>
<rect x="67.0" y="43.7" width="12.0" height="0.8" fill="#8e99ad" opacity="0.45"/>
<rect x="67.0" y="45.2" width="9.0" height="0.8" fill="#8e99ad" opacity="0.40"/>
<rect x="67.0" y="48.6" width="5.0" height="0.8" fill="#6b7890" opacity="0.50"/>
<rect x="67.0" y="51.4" width="14.0" height="0.8" fill="#8e99ad" opacity="0.40"/>
<rect x="67.0" y="52.9" width="13.0" height="0.8" fill="#8e99ad" opacity="0.40"/>
<rect x="67.0" y="54.4" width="8.0" height="0.8" fill="#8e99ad" opacity="0.35"/>
<rect x="67.0" y="57.4" width="6.0" height="0.8" fill="#6b7890" opacity="0.50"/>
<rect x="67.0" y="58.9" width="9.0" height="0.8" fill="#8e99ad" opacity="0.40"/>
<rect x="15.0" y="66.6" width="19.0" height="0.9" fill="#8d8f96" opacity="0.60"/>
<rect x="15.0" y="69.6" width="5.0" height="0.9" fill="#9a9ca3" opacity="0.60"/>
<rect x="15.0" y="72.2" width="7.0" height="1.3" fill="#6d6f76" opacity="0.75"/>
<rect x="15.0" y="76.4" width="40.0" height="0.6" fill="#b9bbc1" opacity="0.50"/>
<rect x="15.5" y="77.8" width="18.5" height="3" fill="#f4f4f6" stroke="#b9bbc1" stroke-width=".4"/>
<rect x="17.0" y="78.9" width="15.0" height="0.9" fill="#7c7e85" opacity="0.70"/>
<rect x="36.5" y="78.6" width="2.5" height="1.2" fill="#8d8f96" opacity="0.60"/>
<rect x="41.0" y="78.9" width="13.0" height="0.8" fill="#a9abb2" opacity="0.50"/>
</g>
<rect x="0" y="87.2" width="100" height="2.8" fill="#b1b2b6"/>
<rect x="17" y="87.7" width="38" height="1.8" fill="#87888d"/>
<rect x="0" y="0" width="100" height="90" rx="1" fill="none" stroke="#bfc0c4" stroke-width=".5"/>
</g>
<g transform="translate(894.00,560.80) scale(1.0030,1.0067)">
<rect x="-1" y="3" width="102" height="92" rx="2" fill="#000" opacity=".25" filter="url(#sh)"/>
<rect x="0" y="0" width="100" height="90" rx="1" fill="#eeeef0"/>
<rect x="0" y="62" width="100" height="26" fill="#e5e5e8"/>
<rect x="0" y="0" width="100" height="5.2" rx="1" fill="#dcdcde"/>
<rect x="14" y="1.3" width="22" height="2.2" rx=".6" fill="#e9e9eb"/>
<circle cx="3.3" cy="2.6" r="1.0" fill="#e2594b"/>
<circle cx="6.9" cy="2.6" r="1.0" fill="#e4bb48"/>
<circle cx="10.4" cy="2.6" r="1.0" fill="#9cc266"/>
<rect x="0" y="5.2" width="100" height="5" fill="#1b3766"/>
<rect x="14.5" y="6.9" width="7" height="1.6" fill="#fff" opacity=".85"/>
<rect x="23" y="7.1" width="14" height="1.2" fill="#fff" opacity=".55"/>
<rect x="68" y="7.2" width="6" height="1" fill="#fff" opacity=".35"/>
<rect x="76" y="7.2" width="10" height="1" fill="#fff" opacity=".35"/>
<g>
<rect x="13.6" y="11" width="71.5" height="53.6" fill="#fdfdfe"/>
<rect x="15" y="12.2" width="30" height=".8" fill="#9aa6ba" opacity=".7"/>
<rect x="27" y="13.6" width="12" height=".8" fill="#3b6fc0" opacity=".6"/>
<rect x="15.2" y="15.2" width="69.4" height="17.2" fill="#d3d6dc"/>
<rect x="15.2" y="15.2" width="31.5" height="17.2" fill="#1d58a6"/>
<rect x="15.2" y="15.2" width="10" height="17.2" fill="#184c96" opacity=".6"/>
<rect x="32.5" y="17.5" width="13" height="12.5" fill="#3f7cc9"/>
<rect x="34" y="19" width="10" height="3.6" fill="#dfe9f6" opacity=".75"/>
<rect x="34" y="24" width="10" height="4.5" fill="#1b3f7c"/>
<rect x="46.5" y="15.8" width="15.5" height="16.6" fill="#182a52"/>
<rect x="48.5" y="17.6" width="12" height="9" fill="#2f68bd"/>
<rect x="49.6" y="19" width="9.8" height="2.6" fill="#d5e1f2" opacity=".8"/>
<rect x="49.6" y="23" width="9.8" height="2.4" fill="#86a8da" opacity=".7"/>
<rect x="62" y="15.2" width="5" height="17.2" fill="#b4bac5"/>
<rect x="64" y="18" width="3" height="9" fill="#8f98a8" opacity=".6"/>
<rect x="72" y="15.2" width="12.6" height="17.2" fill="#e3e5e9"/>
<rect x="16.5" y="37.4" width="68" height="2.3" fill="#e3e5ea"/>
<rect x="17" y="38" width="14" height="1.1" fill="#6f7a8e" opacity=".7"/>
<rect x="32" y="37.7" width="6" height="1.7" fill="#a9946f" opacity=".7"/>
<rect x="39" y="37.7" width="8" height="1.7" fill="#454c5e" opacity=".8"/>
<rect x="48.5" y="37.4" width="36" height="2.3" fill="#1b3766"/>
<rect x="17.4" y="42.2" width="7.6" height="5.6" fill="#17326a"/>
<rect x="18.4" y="43.2" width="5.6" height="2.4" fill="#3e6fc0"/>
<rect x="27.0" y="42.6" width="9.0" height="0.8" fill="#5d6f90" opacity="0.70"/>
<rect x="27.0" y="44.4" width="5.0" height="0.8" fill="#7f8ea8" opacity="0.55"/>
<rect x="27.0" y="46.2" width="15.0" height="0.8" fill="#8ea4c8" opacity="0.60"/>
<rect x="21.0" y="50.6" width="19.0" height="0.8" fill="#3b7bd8" opacity="0.65"/>
<rect x="21.0" y="52.2" width="16.0" height="0.8" fill="#3b7bd8" opacity="0.45"/>
<rect x="21.0" y="54.2" width="10.0" height="0.8" fill="#7f8ea8" opacity="0.55"/>
<rect x="21.0" y="56.6" width="8.0" height="0.8" fill="#7f8ea8" opacity="0.55"/>
<rect x="21.0" y="58.4" width="12.0" height="0.8" fill="#9aa6ba" opacity="0.40"/>
<rect x="49.5" y="42.2" width="14.0" height="0.8" fill="#6b7890" opacity="0.55"/>
<rect x="49.5" y="43.7" width="12.0" height="0.8" fill="#8e99ad" opacity="0.45"/>
<rect x="49.5" y="45.2" width="9.0" height="0.8" fill="#8e99ad" opacity="0.40"/>
<rect x="49.5" y="48.6" width="5.0" height="0.8" fill="#6b7890" opacity="0.50"/>
<rect x="49.5" y="51.4" width="14.0" height="0.8" fill="#8e99ad" opacity="0.40"/>
<rect x="49.5" y="52.9" width="13.0" height="0.8" fill="#8e99ad" opacity="0.40"/>
<rect x="49.5" y="54.4" width="8.0" height="0.8" fill="#8e99ad" opacity="0.35"/>
<rect x="49.5" y="57.4" width="6.0" height="0.8" fill="#6b7890" opacity="0.50"/>
<rect x="49.5" y="58.9" width="9.0" height="0.8" fill="#8e99ad" opacity="0.40"/>
<rect x="67.0" y="42.2" width="14.0" height="0.8" fill="#6b7890" opacity="0.55"/>
<rect x="67.0" y="43.7" width="12.0" height="0.8" fill="#8e99ad" opacity="0.45"/>
<rect x="67.0" y="45.2" width="9.0" height="0.8" fill="#8e99ad" opacity="0.40"/>
<rect x="67.0" y="48.6" width="5.0" height="0.8" fill="#6b7890" opacity="0.50"/>
<rect x="67.0" y="51.4" width="14.0" height="0.8" fill="#8e99ad" opacity="0.40"/>
<rect x="67.0" y="52.9" width="13.0" height="0.8" fill="#8e99ad" opacity="0.40"/>
<rect x="67.0" y="54.4" width="8.0" height="0.8" fill="#8e99ad" opacity="0.35"/>
<rect x="67.0" y="57.4" width="6.0" height="0.8" fill="#6b7890" opacity="0.50"/>
<rect x="67.0" y="58.9" width="9.0" height="0.8" fill="#8e99ad" opacity="0.40"/>
<rect x="15.0" y="66.6" width="19.0" height="0.9" fill="#8d8f96" opacity="0.60"/>
<rect x="15.0" y="69.6" width="5.0" height="0.9" fill="#9a9ca3" opacity="0.60"/>
<rect x="15.0" y="72.2" width="7.0" height="1.3" fill="#6d6f76" opacity="0.75"/>
<rect x="15.0" y="76.4" width="40.0" height="0.6" fill="#b9bbc1" opacity="0.50"/>
<rect x="15.5" y="77.8" width="18.5" height="3" fill="#f4f4f6" stroke="#b9bbc1" stroke-width=".4"/>
<rect x="17.0" y="78.9" width="15.0" height="0.9" fill="#7c7e85" opacity="0.70"/>
<rect x="36.5" y="78.6" width="2.5" height="1.2" fill="#8d8f96" opacity="0.60"/>
<rect x="41.0" y="78.9" width="13.0" height="0.8" fill="#a9abb2" opacity="0.50"/>
</g>
<rect x="0" y="87.2" width="100" height="2.8" fill="#b1b2b6"/>
<rect x="17" y="87.7" width="38" height="1.8" fill="#87888d"/>
<rect x="0" y="0" width="100" height="90" rx="1" fill="none" stroke="#bfc0c4" stroke-width=".5"/>
</g>
<g transform="translate(1053.30,499.30) scale(1.0130,0.9978)">
<rect x="-1" y="3" width="102" height="92" rx="2" fill="#000" opacity=".25" filter="url(#sh)"/>
<rect x="0" y="0" width="100" height="90" rx="1" fill="#eeeef0"/>
<rect x="0" y="62" width="100" height="26" fill="#e5e5e8"/>
<rect x="0" y="0" width="100" height="5.2" rx="1" fill="#dcdcde"/>
<rect x="14" y="1.3" width="22" height="2.2" rx=".6" fill="#e9e9eb"/>
<circle cx="3.3" cy="2.6" r="1.0" fill="#e2594b"/>
<circle cx="6.9" cy="2.6" r="1.0" fill="#e4bb48"/>
<circle cx="10.4" cy="2.6" r="1.0" fill="#9cc266"/>
<rect x="0" y="5.2" width="100" height="5" fill="#1b3766"/>
<rect x="14.5" y="6.9" width="7" height="1.6" fill="#fff" opacity=".85"/>
<rect x="23" y="7.1" width="14" height="1.2" fill="#fff" opacity=".55"/>
<rect x="68" y="7.2" width="6" height="1" fill="#fff" opacity=".35"/>
<rect x="76" y="7.2" width="10" height="1" fill="#fff" opacity=".35"/>
<g>
<rect x="13.6" y="11" width="71.5" height="53.6" fill="#fdfdfe"/>
<rect x="15" y="12.2" width="30" height=".8" fill="#9aa6ba" opacity=".7"/>
<rect x="27" y="13.6" width="12" height=".8" fill="#3b6fc0" opacity=".6"/>
<rect x="15.2" y="15.2" width="69.4" height="17.2" fill="#d3d6dc"/>
<rect x="15.2" y="15.2" width="31.5" height="17.2" fill="#1d58a6"/>
<rect x="15.2" y="15.2" width="10" height="17.2" fill="#184c96" opacity=".6"/>
<rect x="32.5" y="17.5" width="13" height="12.5" fill="#3f7cc9"/>
<rect x="34" y="19" width="10" height="3.6" fill="#dfe9f6" opacity=".75"/>
<rect x="34" y="24" width="10" height="4.5" fill="#1b3f7c"/>
<rect x="46.5" y="15.8" width="15.5" height="16.6" fill="#182a52"/>
<rect x="48.5" y="17.6" width="12" height="9" fill="#2f68bd"/>
<rect x="49.6" y="19" width="9.8" height="2.6" fill="#d5e1f2" opacity=".8"/>
<rect x="49.6" y="23" width="9.8" height="2.4" fill="#86a8da" opacity=".7"/>
<rect x="62" y="15.2" width="5" height="17.2" fill="#b4bac5"/>
<rect x="64" y="18" width="3" height="9" fill="#8f98a8" opacity=".6"/>
<rect x="72" y="15.2" width="12.6" height="17.2" fill="#e3e5e9"/>
<rect x="16.5" y="37.4" width="68" height="2.3" fill="#e3e5ea"/>
<rect x="17" y="38" width="14" height="1.1" fill="#6f7a8e" opacity=".7"/>
<rect x="32" y="37.7" width="6" height="1.7" fill="#a9946f" opacity=".7"/>
<rect x="39" y="37.7" width="8" height="1.7" fill="#454c5e" opacity=".8"/>
<rect x="48.5" y="37.4" width="36" height="2.3" fill="#1b3766"/>
<rect x="17.4" y="42.2" width="7.6" height="5.6" fill="#17326a"/>
<rect x="18.4" y="43.2" width="5.6" height="2.4" fill="#3e6fc0"/>
<rect x="27.0" y="42.6" width="9.0" height="0.8" fill="#5d6f90" opacity="0.70"/>
<rect x="27.0" y="44.4" width="5.0" height="0.8" fill="#7f8ea8" opacity="0.55"/>
<rect x="27.0" y="46.2" width="15.0" height="0.8" fill="#8ea4c8" opacity="0.60"/>
<rect x="21.0" y="50.6" width="19.0" height="0.8" fill="#3b7bd8" opacity="0.65"/>
<rect x="21.0" y="52.2" width="16.0" height="0.8" fill="#3b7bd8" opacity="0.45"/>
<rect x="21.0" y="54.2" width="10.0" height="0.8" fill="#7f8ea8" opacity="0.55"/>
<rect x="21.0" y="56.6" width="8.0" height="0.8" fill="#7f8ea8" opacity="0.55"/>
<rect x="21.0" y="58.4" width="12.0" height="0.8" fill="#9aa6ba" opacity="0.40"/>
<rect x="49.5" y="42.2" width="14.0" height="0.8" fill="#6b7890" opacity="0.55"/>
<rect x="49.5" y="43.7" width="12.0" height="0.8" fill="#8e99ad" opacity="0.45"/>
<rect x="49.5" y="45.2" width="9.0" height="0.8" fill="#8e99ad" opacity="0.40"/>
<rect x="49.5" y="48.6" width="5.0" height="0.8" fill="#6b7890" opacity="0.50"/>
<rect x="49.5" y="51.4" width="14.0" height="0.8" fill="#8e99ad" opacity="0.40"/>
<rect x="49.5" y="52.9" width="13.0" height="0.8" fill="#8e99ad" opacity="0.40"/>
<rect x="49.5" y="54.4" width="8.0" height="0.8" fill="#8e99ad" opacity="0.35"/>
<rect x="49.5" y="57.4" width="6.0" height="0.8" fill="#6b7890" opacity="0.50"/>
<rect x="49.5" y="58.9" width="9.0" height="0.8" fill="#8e99ad" opacity="0.40"/>
<rect x="67.0" y="42.2" width="14.0" height="0.8" fill="#6b7890" opacity="0.55"/>
<rect x="67.0" y="43.7" width="12.0" height="0.8" fill="#8e99ad" opacity="0.45"/>
<rect x="67.0" y="45.2" width="9.0" height="0.8" fill="#8e99ad" opacity="0.40"/>
<rect x="67.0" y="48.6" width="5.0" height="0.8" fill="#6b7890" opacity="0.50"/>
<rect x="67.0" y="51.4" width="14.0" height="0.8" fill="#8e99ad" opacity="0.40"/>
<rect x="67.0" y="52.9" width="13.0" height="0.8" fill="#8e99ad" opacity="0.40"/>
<rect x="67.0" y="54.4" width="8.0" height="0.8" fill="#8e99ad" opacity="0.35"/>
<rect x="67.0" y="57.4" width="6.0" height="0.8" fill="#6b7890" opacity="0.50"/>
<rect x="67.0" y="58.9" width="9.0" height="0.8" fill="#8e99ad" opacity="0.40"/>
<rect x="15.0" y="66.6" width="19.0" height="0.9" fill="#8d8f96" opacity="0.60"/>
<rect x="15.0" y="69.6" width="5.0" height="0.9" fill="#9a9ca3" opacity="0.60"/>
<rect x="15.0" y="72.2" width="7.0" height="1.3" fill="#6d6f76" opacity="0.75"/>
<rect x="15.0" y="76.4" width="40.0" height="0.6" fill="#b9bbc1" opacity="0.50"/>
<rect x="15.5" y="77.8" width="18.5" height="3" fill="#f4f4f6" stroke="#b9bbc1" stroke-width=".4"/>
<rect x="17.0" y="78.9" width="15.0" height="0.9" fill="#7c7e85" opacity="0.70"/>
<rect x="36.5" y="78.6" width="2.5" height="1.2" fill="#8d8f96" opacity="0.60"/>
<rect x="41.0" y="78.9" width="13.0" height="0.8" fill="#a9abb2" opacity="0.50"/>
</g>
<rect x="0" y="87.2" width="100" height="2.8" fill="#b1b2b6"/>
<rect x="17" y="87.7" width="38" height="1.8" fill="#87888d"/>
<rect x="0" y="0" width="100" height="90" rx="1" fill="none" stroke="#bfc0c4" stroke-width=".5"/>
</g>
</svg></body></html>
